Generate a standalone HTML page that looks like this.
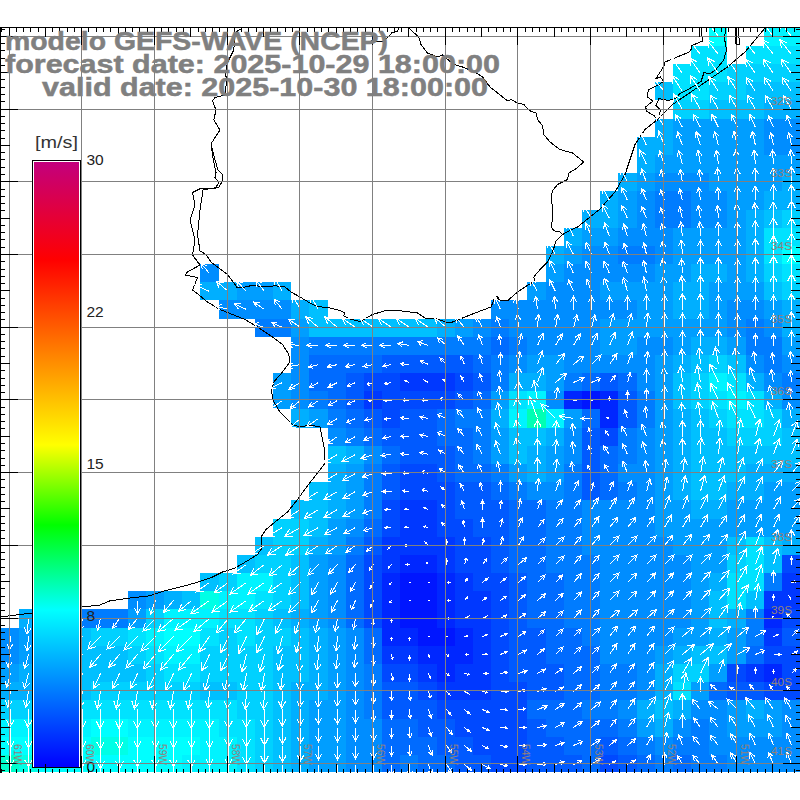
<!DOCTYPE html><html><head><meta charset="utf-8"><style>html,body{margin:0;padding:0;background:#fff}svg{display:block}text{font-family:"Liberation Sans",sans-serif}</style></head><body>
<svg width="800" height="800" viewBox="0 0 800 800">
<rect width="800" height="800" fill="#fff"/>
<g shape-rendering="crispEdges">
<rect x="709" y="28" width="18" height="18" fill="#00ffff"/>
<rect x="764" y="28" width="36" height="18" fill="#00f3ff"/>
<rect x="691" y="46" width="36" height="18" fill="#00e2ff"/>
<rect x="746" y="46" width="54" height="18" fill="#00e2ff"/>
<rect x="673" y="64" width="54" height="18" fill="#00e2ff"/>
<rect x="727" y="64" width="73" height="18" fill="#00d1ff"/>
<rect x="655" y="82" width="18" height="18" fill="#00c0ff"/>
<rect x="673" y="82" width="36" height="18" fill="#00e2ff"/>
<rect x="709" y="82" width="37" height="18" fill="#00d1ff"/>
<rect x="746" y="82" width="54" height="18" fill="#00c0ff"/>
<rect x="673" y="100" width="36" height="19" fill="#00d1ff"/>
<rect x="709" y="100" width="55" height="19" fill="#00c0ff"/>
<rect x="764" y="100" width="36" height="19" fill="#00afff"/>
<rect x="655" y="119" width="18" height="18" fill="#00afff"/>
<rect x="673" y="119" width="91" height="18" fill="#009eff"/>
<rect x="764" y="119" width="36" height="18" fill="#008dff"/>
<rect x="637" y="137" width="36" height="18" fill="#00afff"/>
<rect x="673" y="137" width="91" height="18" fill="#009eff"/>
<rect x="764" y="137" width="36" height="18" fill="#008dff"/>
<rect x="637" y="155" width="18" height="18" fill="#00afff"/>
<rect x="655" y="155" width="145" height="18" fill="#009eff"/>
<rect x="618" y="173" width="19" height="18" fill="#00afff"/>
<rect x="637" y="173" width="18" height="18" fill="#009eff"/>
<rect x="655" y="173" width="54" height="18" fill="#008dff"/>
<rect x="709" y="173" width="73" height="18" fill="#009eff"/>
<rect x="782" y="173" width="18" height="18" fill="#00afff"/>
<rect x="600" y="191" width="18" height="19" fill="#00afff"/>
<rect x="618" y="191" width="19" height="19" fill="#009eff"/>
<rect x="637" y="191" width="18" height="19" fill="#008dff"/>
<rect x="655" y="191" width="36" height="19" fill="#007cff"/>
<rect x="691" y="191" width="36" height="19" fill="#008dff"/>
<rect x="727" y="191" width="37" height="19" fill="#009eff"/>
<rect x="764" y="191" width="36" height="19" fill="#00afff"/>
<rect x="582" y="210" width="36" height="18" fill="#00afff"/>
<rect x="618" y="210" width="19" height="18" fill="#009eff"/>
<rect x="637" y="210" width="18" height="18" fill="#008dff"/>
<rect x="655" y="210" width="36" height="18" fill="#007cff"/>
<rect x="691" y="210" width="36" height="18" fill="#008dff"/>
<rect x="727" y="210" width="19" height="18" fill="#009eff"/>
<rect x="746" y="210" width="18" height="18" fill="#00afff"/>
<rect x="764" y="210" width="18" height="18" fill="#00c0ff"/>
<rect x="782" y="210" width="18" height="18" fill="#00d1ff"/>
<rect x="564" y="228" width="18" height="18" fill="#00afff"/>
<rect x="582" y="228" width="36" height="18" fill="#009eff"/>
<rect x="618" y="228" width="55" height="18" fill="#008dff"/>
<rect x="673" y="228" width="73" height="18" fill="#009eff"/>
<rect x="746" y="228" width="18" height="18" fill="#00afff"/>
<rect x="764" y="228" width="36" height="18" fill="#00e2ff"/>
<rect x="546" y="246" width="18" height="18" fill="#00afff"/>
<rect x="564" y="246" width="18" height="18" fill="#009eff"/>
<rect x="582" y="246" width="36" height="18" fill="#008dff"/>
<rect x="618" y="246" width="37" height="18" fill="#007cff"/>
<rect x="655" y="246" width="18" height="18" fill="#008dff"/>
<rect x="673" y="246" width="73" height="18" fill="#009eff"/>
<rect x="746" y="246" width="18" height="18" fill="#00afff"/>
<rect x="764" y="246" width="18" height="18" fill="#00e2ff"/>
<rect x="782" y="246" width="18" height="18" fill="#00ffff"/>
<rect x="200" y="264" width="19" height="18" fill="#008dff"/>
<rect x="546" y="264" width="18" height="18" fill="#009eff"/>
<rect x="564" y="264" width="91" height="18" fill="#008dff"/>
<rect x="655" y="264" width="36" height="18" fill="#009eff"/>
<rect x="691" y="264" width="36" height="18" fill="#00afff"/>
<rect x="727" y="264" width="19" height="18" fill="#009eff"/>
<rect x="746" y="264" width="18" height="18" fill="#00afff"/>
<rect x="764" y="264" width="18" height="18" fill="#00d1ff"/>
<rect x="782" y="264" width="18" height="18" fill="#00e2ff"/>
<rect x="200" y="282" width="37" height="18" fill="#00afff"/>
<rect x="237" y="282" width="36" height="18" fill="#009eff"/>
<rect x="273" y="282" width="18" height="18" fill="#00afff"/>
<rect x="527" y="282" width="19" height="18" fill="#009eff"/>
<rect x="546" y="282" width="54" height="18" fill="#008dff"/>
<rect x="600" y="282" width="73" height="18" fill="#009eff"/>
<rect x="673" y="282" width="36" height="18" fill="#00afff"/>
<rect x="709" y="282" width="55" height="18" fill="#009eff"/>
<rect x="764" y="282" width="18" height="18" fill="#00c0ff"/>
<rect x="782" y="282" width="18" height="18" fill="#00d1ff"/>
<rect x="219" y="300" width="72" height="19" fill="#008dff"/>
<rect x="291" y="300" width="18" height="19" fill="#00afff"/>
<rect x="309" y="300" width="19" height="19" fill="#00c0ff"/>
<rect x="491" y="300" width="146" height="19" fill="#008dff"/>
<rect x="637" y="300" width="36" height="19" fill="#009eff"/>
<rect x="673" y="300" width="36" height="19" fill="#00afff"/>
<rect x="709" y="300" width="18" height="19" fill="#009eff"/>
<rect x="727" y="300" width="37" height="19" fill="#008dff"/>
<rect x="764" y="300" width="18" height="19" fill="#009eff"/>
<rect x="782" y="300" width="18" height="19" fill="#00afff"/>
<rect x="255" y="319" width="36" height="18" fill="#007cff"/>
<rect x="291" y="319" width="18" height="18" fill="#009eff"/>
<rect x="309" y="319" width="128" height="18" fill="#00c0ff"/>
<rect x="437" y="319" width="18" height="18" fill="#00afff"/>
<rect x="455" y="319" width="18" height="18" fill="#009eff"/>
<rect x="473" y="319" width="18" height="18" fill="#008dff"/>
<rect x="491" y="319" width="18" height="18" fill="#007cff"/>
<rect x="509" y="319" width="91" height="18" fill="#008dff"/>
<rect x="600" y="319" width="127" height="18" fill="#009eff"/>
<rect x="727" y="319" width="19" height="18" fill="#008dff"/>
<rect x="746" y="319" width="18" height="18" fill="#007cff"/>
<rect x="764" y="319" width="18" height="18" fill="#008dff"/>
<rect x="782" y="319" width="18" height="18" fill="#00afff"/>
<rect x="291" y="337" width="18" height="18" fill="#008dff"/>
<rect x="309" y="337" width="182" height="18" fill="#007cff"/>
<rect x="491" y="337" width="18" height="18" fill="#006bff"/>
<rect x="509" y="337" width="18" height="18" fill="#007cff"/>
<rect x="527" y="337" width="73" height="18" fill="#008dff"/>
<rect x="600" y="337" width="37" height="18" fill="#009eff"/>
<rect x="637" y="337" width="36" height="18" fill="#008dff"/>
<rect x="673" y="337" width="18" height="18" fill="#009eff"/>
<rect x="691" y="337" width="36" height="18" fill="#00afff"/>
<rect x="727" y="337" width="19" height="18" fill="#009eff"/>
<rect x="746" y="337" width="36" height="18" fill="#007cff"/>
<rect x="782" y="337" width="18" height="18" fill="#009eff"/>
<rect x="291" y="355" width="18" height="18" fill="#008dff"/>
<rect x="309" y="355" width="73" height="18" fill="#006bff"/>
<rect x="382" y="355" width="91" height="18" fill="#005aff"/>
<rect x="473" y="355" width="18" height="18" fill="#006bff"/>
<rect x="491" y="355" width="18" height="18" fill="#007cff"/>
<rect x="509" y="355" width="18" height="18" fill="#008dff"/>
<rect x="527" y="355" width="37" height="18" fill="#009eff"/>
<rect x="564" y="355" width="91" height="18" fill="#008dff"/>
<rect x="655" y="355" width="18" height="18" fill="#009eff"/>
<rect x="673" y="355" width="18" height="18" fill="#00afff"/>
<rect x="691" y="355" width="18" height="18" fill="#00c0ff"/>
<rect x="709" y="355" width="18" height="18" fill="#00d1ff"/>
<rect x="727" y="355" width="19" height="18" fill="#00c0ff"/>
<rect x="746" y="355" width="18" height="18" fill="#008dff"/>
<rect x="764" y="355" width="18" height="18" fill="#007cff"/>
<rect x="782" y="355" width="18" height="18" fill="#008dff"/>
<rect x="273" y="373" width="18" height="18" fill="#009eff"/>
<rect x="291" y="373" width="18" height="18" fill="#008dff"/>
<rect x="309" y="373" width="37" height="18" fill="#006bff"/>
<rect x="346" y="373" width="18" height="18" fill="#005aff"/>
<rect x="364" y="373" width="36" height="18" fill="#0049ff"/>
<rect x="400" y="373" width="55" height="18" fill="#0038ff"/>
<rect x="455" y="373" width="18" height="18" fill="#0049ff"/>
<rect x="473" y="373" width="18" height="18" fill="#005aff"/>
<rect x="491" y="373" width="18" height="18" fill="#007cff"/>
<rect x="509" y="373" width="37" height="18" fill="#00afff"/>
<rect x="546" y="373" width="18" height="18" fill="#009eff"/>
<rect x="564" y="373" width="18" height="18" fill="#007cff"/>
<rect x="582" y="373" width="18" height="18" fill="#006bff"/>
<rect x="600" y="373" width="18" height="18" fill="#005aff"/>
<rect x="618" y="373" width="19" height="18" fill="#006bff"/>
<rect x="637" y="373" width="18" height="18" fill="#008dff"/>
<rect x="655" y="373" width="18" height="18" fill="#009eff"/>
<rect x="673" y="373" width="18" height="18" fill="#00c0ff"/>
<rect x="691" y="373" width="18" height="18" fill="#00d1ff"/>
<rect x="709" y="373" width="18" height="18" fill="#00f3ff"/>
<rect x="727" y="373" width="19" height="18" fill="#00e2ff"/>
<rect x="746" y="373" width="18" height="18" fill="#00afff"/>
<rect x="764" y="373" width="18" height="18" fill="#008dff"/>
<rect x="782" y="373" width="18" height="18" fill="#007cff"/>
<rect x="273" y="391" width="18" height="18" fill="#009eff"/>
<rect x="291" y="391" width="18" height="18" fill="#008dff"/>
<rect x="309" y="391" width="19" height="18" fill="#007cff"/>
<rect x="328" y="391" width="18" height="18" fill="#006bff"/>
<rect x="346" y="391" width="18" height="18" fill="#005aff"/>
<rect x="364" y="391" width="18" height="18" fill="#0038ff"/>
<rect x="382" y="391" width="73" height="18" fill="#0049ff"/>
<rect x="455" y="391" width="18" height="18" fill="#005aff"/>
<rect x="473" y="391" width="18" height="18" fill="#006bff"/>
<rect x="491" y="391" width="18" height="18" fill="#009eff"/>
<rect x="509" y="391" width="18" height="18" fill="#00e2ff"/>
<rect x="527" y="391" width="19" height="18" fill="#00f3ff"/>
<rect x="546" y="391" width="18" height="18" fill="#008dff"/>
<rect x="564" y="391" width="18" height="18" fill="#0027ff"/>
<rect x="582" y="391" width="18" height="18" fill="#0016ff"/>
<rect x="600" y="391" width="18" height="18" fill="#0027ff"/>
<rect x="618" y="391" width="19" height="18" fill="#005aff"/>
<rect x="637" y="391" width="18" height="18" fill="#007cff"/>
<rect x="655" y="391" width="18" height="18" fill="#009eff"/>
<rect x="673" y="391" width="18" height="18" fill="#00c0ff"/>
<rect x="691" y="391" width="18" height="18" fill="#00d1ff"/>
<rect x="709" y="391" width="18" height="18" fill="#00e2ff"/>
<rect x="727" y="391" width="19" height="18" fill="#00f3ff"/>
<rect x="746" y="391" width="18" height="18" fill="#00e2ff"/>
<rect x="764" y="391" width="18" height="18" fill="#00afff"/>
<rect x="782" y="391" width="18" height="18" fill="#008dff"/>
<rect x="291" y="409" width="18" height="19" fill="#00afff"/>
<rect x="309" y="409" width="19" height="19" fill="#009eff"/>
<rect x="328" y="409" width="18" height="19" fill="#007cff"/>
<rect x="346" y="409" width="18" height="19" fill="#006bff"/>
<rect x="364" y="409" width="18" height="19" fill="#005aff"/>
<rect x="382" y="409" width="18" height="19" fill="#0049ff"/>
<rect x="400" y="409" width="37" height="19" fill="#005aff"/>
<rect x="437" y="409" width="18" height="19" fill="#006bff"/>
<rect x="455" y="409" width="36" height="19" fill="#007cff"/>
<rect x="491" y="409" width="18" height="19" fill="#00afff"/>
<rect x="509" y="409" width="18" height="19" fill="#00f3ff"/>
<rect x="527" y="409" width="19" height="19" fill="#00ffb4"/>
<rect x="546" y="409" width="18" height="19" fill="#00f3ff"/>
<rect x="564" y="409" width="18" height="19" fill="#009eff"/>
<rect x="582" y="409" width="18" height="19" fill="#006bff"/>
<rect x="600" y="409" width="18" height="19" fill="#0027ff"/>
<rect x="618" y="409" width="19" height="19" fill="#005aff"/>
<rect x="637" y="409" width="18" height="19" fill="#007cff"/>
<rect x="655" y="409" width="18" height="19" fill="#009eff"/>
<rect x="673" y="409" width="18" height="19" fill="#00afff"/>
<rect x="691" y="409" width="18" height="19" fill="#00c0ff"/>
<rect x="709" y="409" width="18" height="19" fill="#00d1ff"/>
<rect x="727" y="409" width="37" height="19" fill="#00e2ff"/>
<rect x="764" y="409" width="18" height="19" fill="#00d1ff"/>
<rect x="782" y="409" width="18" height="19" fill="#00afff"/>
<rect x="328" y="428" width="18" height="18" fill="#008dff"/>
<rect x="346" y="428" width="18" height="18" fill="#007cff"/>
<rect x="364" y="428" width="18" height="18" fill="#006bff"/>
<rect x="382" y="428" width="55" height="18" fill="#005aff"/>
<rect x="437" y="428" width="36" height="18" fill="#006bff"/>
<rect x="473" y="428" width="18" height="18" fill="#007cff"/>
<rect x="491" y="428" width="18" height="18" fill="#009eff"/>
<rect x="509" y="428" width="37" height="18" fill="#00c0ff"/>
<rect x="546" y="428" width="18" height="18" fill="#00afff"/>
<rect x="564" y="428" width="18" height="18" fill="#008dff"/>
<rect x="582" y="428" width="18" height="18" fill="#005aff"/>
<rect x="600" y="428" width="18" height="18" fill="#0049ff"/>
<rect x="618" y="428" width="19" height="18" fill="#007cff"/>
<rect x="637" y="428" width="18" height="18" fill="#008dff"/>
<rect x="655" y="428" width="18" height="18" fill="#009eff"/>
<rect x="673" y="428" width="18" height="18" fill="#00afff"/>
<rect x="691" y="428" width="36" height="18" fill="#00c0ff"/>
<rect x="727" y="428" width="55" height="18" fill="#00d1ff"/>
<rect x="782" y="428" width="18" height="18" fill="#00c0ff"/>
<rect x="328" y="446" width="18" height="18" fill="#00c0ff"/>
<rect x="346" y="446" width="18" height="18" fill="#00afff"/>
<rect x="364" y="446" width="18" height="18" fill="#008dff"/>
<rect x="382" y="446" width="18" height="18" fill="#006bff"/>
<rect x="400" y="446" width="55" height="18" fill="#005aff"/>
<rect x="455" y="446" width="18" height="18" fill="#006bff"/>
<rect x="473" y="446" width="18" height="18" fill="#007cff"/>
<rect x="491" y="446" width="18" height="18" fill="#009eff"/>
<rect x="509" y="446" width="18" height="18" fill="#00c0ff"/>
<rect x="527" y="446" width="19" height="18" fill="#00afff"/>
<rect x="546" y="446" width="18" height="18" fill="#009eff"/>
<rect x="564" y="446" width="18" height="18" fill="#008dff"/>
<rect x="582" y="446" width="18" height="18" fill="#005aff"/>
<rect x="600" y="446" width="18" height="18" fill="#006bff"/>
<rect x="618" y="446" width="19" height="18" fill="#007cff"/>
<rect x="637" y="446" width="18" height="18" fill="#008dff"/>
<rect x="655" y="446" width="18" height="18" fill="#009eff"/>
<rect x="673" y="446" width="18" height="18" fill="#00afff"/>
<rect x="691" y="446" width="109" height="18" fill="#00c0ff"/>
<rect x="328" y="464" width="18" height="18" fill="#00afff"/>
<rect x="346" y="464" width="18" height="18" fill="#009eff"/>
<rect x="364" y="464" width="18" height="18" fill="#007cff"/>
<rect x="382" y="464" width="18" height="18" fill="#005aff"/>
<rect x="400" y="464" width="37" height="18" fill="#0049ff"/>
<rect x="437" y="464" width="18" height="18" fill="#005aff"/>
<rect x="455" y="464" width="36" height="18" fill="#006bff"/>
<rect x="491" y="464" width="18" height="18" fill="#007cff"/>
<rect x="509" y="464" width="18" height="18" fill="#009eff"/>
<rect x="527" y="464" width="19" height="18" fill="#00afff"/>
<rect x="546" y="464" width="18" height="18" fill="#009eff"/>
<rect x="564" y="464" width="18" height="18" fill="#007cff"/>
<rect x="582" y="464" width="18" height="18" fill="#005aff"/>
<rect x="600" y="464" width="18" height="18" fill="#006bff"/>
<rect x="618" y="464" width="37" height="18" fill="#008dff"/>
<rect x="655" y="464" width="18" height="18" fill="#009eff"/>
<rect x="673" y="464" width="18" height="18" fill="#00afff"/>
<rect x="691" y="464" width="55" height="18" fill="#00c0ff"/>
<rect x="746" y="464" width="54" height="18" fill="#00afff"/>
<rect x="309" y="482" width="19" height="18" fill="#00c0ff"/>
<rect x="328" y="482" width="18" height="18" fill="#00afff"/>
<rect x="346" y="482" width="18" height="18" fill="#009eff"/>
<rect x="364" y="482" width="18" height="18" fill="#007cff"/>
<rect x="382" y="482" width="18" height="18" fill="#005aff"/>
<rect x="400" y="482" width="55" height="18" fill="#0049ff"/>
<rect x="455" y="482" width="36" height="18" fill="#005aff"/>
<rect x="491" y="482" width="18" height="18" fill="#006bff"/>
<rect x="509" y="482" width="18" height="18" fill="#007cff"/>
<rect x="527" y="482" width="37" height="18" fill="#008dff"/>
<rect x="564" y="482" width="18" height="18" fill="#007cff"/>
<rect x="582" y="482" width="18" height="18" fill="#005aff"/>
<rect x="600" y="482" width="18" height="18" fill="#006bff"/>
<rect x="618" y="482" width="19" height="18" fill="#007cff"/>
<rect x="637" y="482" width="18" height="18" fill="#008dff"/>
<rect x="655" y="482" width="18" height="18" fill="#009eff"/>
<rect x="673" y="482" width="18" height="18" fill="#00afff"/>
<rect x="691" y="482" width="36" height="18" fill="#00c0ff"/>
<rect x="727" y="482" width="37" height="18" fill="#00afff"/>
<rect x="764" y="482" width="36" height="18" fill="#009eff"/>
<rect x="291" y="500" width="37" height="19" fill="#00c0ff"/>
<rect x="328" y="500" width="18" height="19" fill="#00afff"/>
<rect x="346" y="500" width="18" height="19" fill="#009eff"/>
<rect x="364" y="500" width="18" height="19" fill="#007cff"/>
<rect x="382" y="500" width="18" height="19" fill="#0049ff"/>
<rect x="400" y="500" width="37" height="19" fill="#0038ff"/>
<rect x="437" y="500" width="18" height="19" fill="#0049ff"/>
<rect x="455" y="500" width="54" height="19" fill="#005aff"/>
<rect x="509" y="500" width="37" height="19" fill="#006bff"/>
<rect x="546" y="500" width="36" height="19" fill="#007cff"/>
<rect x="582" y="500" width="73" height="19" fill="#008dff"/>
<rect x="655" y="500" width="36" height="19" fill="#009eff"/>
<rect x="691" y="500" width="36" height="19" fill="#00afff"/>
<rect x="727" y="500" width="73" height="19" fill="#009eff"/>
<rect x="273" y="519" width="36" height="18" fill="#00d1ff"/>
<rect x="309" y="519" width="19" height="18" fill="#00c0ff"/>
<rect x="328" y="519" width="18" height="18" fill="#009eff"/>
<rect x="346" y="519" width="18" height="18" fill="#008dff"/>
<rect x="364" y="519" width="18" height="18" fill="#006bff"/>
<rect x="382" y="519" width="18" height="18" fill="#0049ff"/>
<rect x="400" y="519" width="37" height="18" fill="#0038ff"/>
<rect x="437" y="519" width="36" height="18" fill="#0049ff"/>
<rect x="473" y="519" width="36" height="18" fill="#005aff"/>
<rect x="509" y="519" width="37" height="18" fill="#006bff"/>
<rect x="546" y="519" width="36" height="18" fill="#007cff"/>
<rect x="582" y="519" width="73" height="18" fill="#008dff"/>
<rect x="655" y="519" width="145" height="18" fill="#009eff"/>
<rect x="255" y="537" width="18" height="18" fill="#00c0ff"/>
<rect x="273" y="537" width="36" height="18" fill="#00d1ff"/>
<rect x="309" y="537" width="19" height="18" fill="#00afff"/>
<rect x="328" y="537" width="18" height="18" fill="#009eff"/>
<rect x="346" y="537" width="18" height="18" fill="#007cff"/>
<rect x="364" y="537" width="18" height="18" fill="#005aff"/>
<rect x="382" y="537" width="73" height="18" fill="#0038ff"/>
<rect x="455" y="537" width="36" height="18" fill="#0049ff"/>
<rect x="491" y="537" width="18" height="18" fill="#005aff"/>
<rect x="509" y="537" width="37" height="18" fill="#006bff"/>
<rect x="546" y="537" width="36" height="18" fill="#007cff"/>
<rect x="582" y="537" width="91" height="18" fill="#008dff"/>
<rect x="673" y="537" width="54" height="18" fill="#009eff"/>
<rect x="727" y="537" width="19" height="18" fill="#00c0ff"/>
<rect x="746" y="537" width="18" height="18" fill="#00e2ff"/>
<rect x="764" y="537" width="18" height="18" fill="#00c0ff"/>
<rect x="782" y="537" width="18" height="18" fill="#00afff"/>
<rect x="237" y="555" width="18" height="18" fill="#00c0ff"/>
<rect x="255" y="555" width="36" height="18" fill="#00d1ff"/>
<rect x="291" y="555" width="18" height="18" fill="#00c0ff"/>
<rect x="309" y="555" width="19" height="18" fill="#009eff"/>
<rect x="328" y="555" width="18" height="18" fill="#008dff"/>
<rect x="346" y="555" width="18" height="18" fill="#006bff"/>
<rect x="364" y="555" width="18" height="18" fill="#0049ff"/>
<rect x="382" y="555" width="18" height="18" fill="#0038ff"/>
<rect x="400" y="555" width="37" height="18" fill="#0027ff"/>
<rect x="437" y="555" width="18" height="18" fill="#0038ff"/>
<rect x="455" y="555" width="36" height="18" fill="#0049ff"/>
<rect x="491" y="555" width="18" height="18" fill="#005aff"/>
<rect x="509" y="555" width="37" height="18" fill="#006bff"/>
<rect x="546" y="555" width="54" height="18" fill="#007cff"/>
<rect x="600" y="555" width="91" height="18" fill="#008dff"/>
<rect x="691" y="555" width="36" height="18" fill="#009eff"/>
<rect x="727" y="555" width="19" height="18" fill="#00d1ff"/>
<rect x="746" y="555" width="18" height="18" fill="#00e2ff"/>
<rect x="764" y="555" width="18" height="18" fill="#00c0ff"/>
<rect x="782" y="555" width="18" height="18" fill="#0049ff"/>
<rect x="200" y="573" width="19" height="18" fill="#00c0ff"/>
<rect x="219" y="573" width="18" height="18" fill="#00d1ff"/>
<rect x="237" y="573" width="36" height="18" fill="#00f3ff"/>
<rect x="273" y="573" width="18" height="18" fill="#00d1ff"/>
<rect x="291" y="573" width="18" height="18" fill="#00c0ff"/>
<rect x="309" y="573" width="19" height="18" fill="#009eff"/>
<rect x="328" y="573" width="18" height="18" fill="#008dff"/>
<rect x="346" y="573" width="18" height="18" fill="#006bff"/>
<rect x="364" y="573" width="18" height="18" fill="#0049ff"/>
<rect x="382" y="573" width="18" height="18" fill="#0027ff"/>
<rect x="400" y="573" width="37" height="18" fill="#0016ff"/>
<rect x="437" y="573" width="18" height="18" fill="#0027ff"/>
<rect x="455" y="573" width="18" height="18" fill="#0038ff"/>
<rect x="473" y="573" width="36" height="18" fill="#0049ff"/>
<rect x="509" y="573" width="18" height="18" fill="#005aff"/>
<rect x="527" y="573" width="37" height="18" fill="#006bff"/>
<rect x="564" y="573" width="36" height="18" fill="#007cff"/>
<rect x="600" y="573" width="91" height="18" fill="#008dff"/>
<rect x="691" y="573" width="18" height="18" fill="#009eff"/>
<rect x="709" y="573" width="18" height="18" fill="#00afff"/>
<rect x="727" y="573" width="37" height="18" fill="#00e2ff"/>
<rect x="764" y="573" width="18" height="18" fill="#007cff"/>
<rect x="782" y="573" width="18" height="18" fill="#0038ff"/>
<rect x="128" y="591" width="18" height="18" fill="#008dff"/>
<rect x="146" y="591" width="18" height="18" fill="#009eff"/>
<rect x="164" y="591" width="18" height="18" fill="#00afff"/>
<rect x="182" y="591" width="18" height="18" fill="#00c0ff"/>
<rect x="200" y="591" width="19" height="18" fill="#00ffe6"/>
<rect x="219" y="591" width="36" height="18" fill="#00f3ff"/>
<rect x="255" y="591" width="18" height="18" fill="#00e2ff"/>
<rect x="273" y="591" width="18" height="18" fill="#00d1ff"/>
<rect x="291" y="591" width="18" height="18" fill="#00c0ff"/>
<rect x="309" y="591" width="19" height="18" fill="#009eff"/>
<rect x="328" y="591" width="18" height="18" fill="#008dff"/>
<rect x="346" y="591" width="18" height="18" fill="#006bff"/>
<rect x="364" y="591" width="18" height="18" fill="#0049ff"/>
<rect x="382" y="591" width="18" height="18" fill="#0027ff"/>
<rect x="400" y="591" width="37" height="18" fill="#0016ff"/>
<rect x="437" y="591" width="18" height="18" fill="#0027ff"/>
<rect x="455" y="591" width="36" height="18" fill="#0038ff"/>
<rect x="491" y="591" width="18" height="18" fill="#0049ff"/>
<rect x="509" y="591" width="18" height="18" fill="#005aff"/>
<rect x="527" y="591" width="37" height="18" fill="#006bff"/>
<rect x="564" y="591" width="36" height="18" fill="#007cff"/>
<rect x="600" y="591" width="91" height="18" fill="#008dff"/>
<rect x="691" y="591" width="18" height="18" fill="#009eff"/>
<rect x="709" y="591" width="18" height="18" fill="#00c0ff"/>
<rect x="727" y="591" width="19" height="18" fill="#00e2ff"/>
<rect x="746" y="591" width="18" height="18" fill="#00c0ff"/>
<rect x="764" y="591" width="36" height="18" fill="#0038ff"/>
<rect x="19" y="609" width="36" height="19" fill="#00afff"/>
<rect x="55" y="609" width="18" height="19" fill="#008dff"/>
<rect x="73" y="609" width="55" height="19" fill="#007cff"/>
<rect x="128" y="609" width="18" height="19" fill="#009eff"/>
<rect x="146" y="609" width="18" height="19" fill="#00d1ff"/>
<rect x="164" y="609" width="55" height="19" fill="#00f3ff"/>
<rect x="219" y="609" width="36" height="19" fill="#00e2ff"/>
<rect x="255" y="609" width="18" height="19" fill="#00d1ff"/>
<rect x="273" y="609" width="18" height="19" fill="#00c0ff"/>
<rect x="291" y="609" width="18" height="19" fill="#00afff"/>
<rect x="309" y="609" width="19" height="19" fill="#009eff"/>
<rect x="328" y="609" width="18" height="19" fill="#008dff"/>
<rect x="346" y="609" width="18" height="19" fill="#006bff"/>
<rect x="364" y="609" width="18" height="19" fill="#0049ff"/>
<rect x="382" y="609" width="18" height="19" fill="#0027ff"/>
<rect x="400" y="609" width="37" height="19" fill="#0016ff"/>
<rect x="437" y="609" width="18" height="19" fill="#0027ff"/>
<rect x="455" y="609" width="36" height="19" fill="#0038ff"/>
<rect x="491" y="609" width="18" height="19" fill="#0049ff"/>
<rect x="509" y="609" width="18" height="19" fill="#005aff"/>
<rect x="527" y="609" width="37" height="19" fill="#006bff"/>
<rect x="564" y="609" width="36" height="19" fill="#007cff"/>
<rect x="600" y="609" width="91" height="19" fill="#008dff"/>
<rect x="691" y="609" width="18" height="19" fill="#009eff"/>
<rect x="709" y="609" width="18" height="19" fill="#00c0ff"/>
<rect x="727" y="609" width="19" height="19" fill="#00afff"/>
<rect x="746" y="609" width="18" height="19" fill="#007cff"/>
<rect x="764" y="609" width="18" height="19" fill="#0027ff"/>
<rect x="782" y="609" width="18" height="19" fill="#0049ff"/>
<rect x="1" y="628" width="18" height="18" fill="#008dff"/>
<rect x="19" y="628" width="36" height="18" fill="#009eff"/>
<rect x="55" y="628" width="18" height="18" fill="#00afff"/>
<rect x="73" y="628" width="18" height="18" fill="#00c0ff"/>
<rect x="91" y="628" width="37" height="18" fill="#00d1ff"/>
<rect x="128" y="628" width="18" height="18" fill="#00e2ff"/>
<rect x="146" y="628" width="18" height="18" fill="#00f3ff"/>
<rect x="164" y="628" width="36" height="18" fill="#00ffff"/>
<rect x="200" y="628" width="19" height="18" fill="#00e2ff"/>
<rect x="219" y="628" width="18" height="18" fill="#00d1ff"/>
<rect x="237" y="628" width="18" height="18" fill="#00e2ff"/>
<rect x="255" y="628" width="36" height="18" fill="#00d1ff"/>
<rect x="291" y="628" width="18" height="18" fill="#00c0ff"/>
<rect x="309" y="628" width="19" height="18" fill="#00afff"/>
<rect x="328" y="628" width="18" height="18" fill="#009eff"/>
<rect x="346" y="628" width="18" height="18" fill="#008dff"/>
<rect x="364" y="628" width="18" height="18" fill="#006bff"/>
<rect x="382" y="628" width="36" height="18" fill="#0027ff"/>
<rect x="418" y="628" width="37" height="18" fill="#0016ff"/>
<rect x="455" y="628" width="18" height="18" fill="#0027ff"/>
<rect x="473" y="628" width="18" height="18" fill="#0038ff"/>
<rect x="491" y="628" width="18" height="18" fill="#0049ff"/>
<rect x="509" y="628" width="37" height="18" fill="#005aff"/>
<rect x="546" y="628" width="36" height="18" fill="#006bff"/>
<rect x="582" y="628" width="18" height="18" fill="#007cff"/>
<rect x="600" y="628" width="73" height="18" fill="#008dff"/>
<rect x="673" y="628" width="36" height="18" fill="#009eff"/>
<rect x="709" y="628" width="18" height="18" fill="#00afff"/>
<rect x="727" y="628" width="19" height="18" fill="#009eff"/>
<rect x="746" y="628" width="18" height="18" fill="#007cff"/>
<rect x="764" y="628" width="18" height="18" fill="#0038ff"/>
<rect x="782" y="628" width="18" height="18" fill="#005aff"/>
<rect x="1" y="646" width="18" height="18" fill="#008dff"/>
<rect x="19" y="646" width="36" height="18" fill="#009eff"/>
<rect x="55" y="646" width="18" height="18" fill="#00afff"/>
<rect x="73" y="646" width="55" height="18" fill="#00c0ff"/>
<rect x="128" y="646" width="18" height="18" fill="#00d1ff"/>
<rect x="146" y="646" width="18" height="18" fill="#00e2ff"/>
<rect x="164" y="646" width="36" height="18" fill="#00f3ff"/>
<rect x="200" y="646" width="73" height="18" fill="#00d1ff"/>
<rect x="273" y="646" width="36" height="18" fill="#00c0ff"/>
<rect x="309" y="646" width="19" height="18" fill="#00afff"/>
<rect x="328" y="646" width="18" height="18" fill="#009eff"/>
<rect x="346" y="646" width="18" height="18" fill="#008dff"/>
<rect x="364" y="646" width="18" height="18" fill="#006bff"/>
<rect x="382" y="646" width="36" height="18" fill="#0038ff"/>
<rect x="418" y="646" width="55" height="18" fill="#0027ff"/>
<rect x="473" y="646" width="18" height="18" fill="#0038ff"/>
<rect x="491" y="646" width="18" height="18" fill="#0049ff"/>
<rect x="509" y="646" width="37" height="18" fill="#005aff"/>
<rect x="546" y="646" width="54" height="18" fill="#006bff"/>
<rect x="600" y="646" width="55" height="18" fill="#008dff"/>
<rect x="655" y="646" width="18" height="18" fill="#009eff"/>
<rect x="673" y="646" width="18" height="18" fill="#00afff"/>
<rect x="691" y="646" width="36" height="18" fill="#00c0ff"/>
<rect x="727" y="646" width="19" height="18" fill="#009eff"/>
<rect x="746" y="646" width="18" height="18" fill="#006bff"/>
<rect x="764" y="646" width="36" height="18" fill="#0049ff"/>
<rect x="1" y="664" width="18" height="18" fill="#009eff"/>
<rect x="19" y="664" width="54" height="18" fill="#00afff"/>
<rect x="73" y="664" width="73" height="18" fill="#00c0ff"/>
<rect x="146" y="664" width="18" height="18" fill="#00d1ff"/>
<rect x="164" y="664" width="36" height="18" fill="#00e2ff"/>
<rect x="200" y="664" width="73" height="18" fill="#00d1ff"/>
<rect x="273" y="664" width="36" height="18" fill="#00c0ff"/>
<rect x="309" y="664" width="19" height="18" fill="#00afff"/>
<rect x="328" y="664" width="18" height="18" fill="#009eff"/>
<rect x="346" y="664" width="18" height="18" fill="#008dff"/>
<rect x="364" y="664" width="18" height="18" fill="#007cff"/>
<rect x="382" y="664" width="36" height="18" fill="#0049ff"/>
<rect x="418" y="664" width="19" height="18" fill="#0038ff"/>
<rect x="437" y="664" width="18" height="18" fill="#0027ff"/>
<rect x="455" y="664" width="36" height="18" fill="#0038ff"/>
<rect x="491" y="664" width="18" height="18" fill="#0049ff"/>
<rect x="509" y="664" width="55" height="18" fill="#005aff"/>
<rect x="564" y="664" width="36" height="18" fill="#006bff"/>
<rect x="600" y="664" width="37" height="18" fill="#007cff"/>
<rect x="637" y="664" width="18" height="18" fill="#008dff"/>
<rect x="655" y="664" width="18" height="18" fill="#00afff"/>
<rect x="673" y="664" width="36" height="18" fill="#00d1ff"/>
<rect x="709" y="664" width="18" height="18" fill="#009eff"/>
<rect x="727" y="664" width="19" height="18" fill="#0049ff"/>
<rect x="746" y="664" width="18" height="18" fill="#0038ff"/>
<rect x="764" y="664" width="18" height="18" fill="#0027ff"/>
<rect x="782" y="664" width="18" height="18" fill="#0049ff"/>
<rect x="1" y="682" width="72" height="18" fill="#00afff"/>
<rect x="73" y="682" width="18" height="18" fill="#00c0ff"/>
<rect x="91" y="682" width="109" height="18" fill="#00d1ff"/>
<rect x="200" y="682" width="37" height="18" fill="#00c0ff"/>
<rect x="237" y="682" width="36" height="18" fill="#00d1ff"/>
<rect x="273" y="682" width="18" height="18" fill="#00c0ff"/>
<rect x="291" y="682" width="37" height="18" fill="#00afff"/>
<rect x="328" y="682" width="18" height="18" fill="#009eff"/>
<rect x="346" y="682" width="18" height="18" fill="#008dff"/>
<rect x="364" y="682" width="18" height="18" fill="#007cff"/>
<rect x="382" y="682" width="36" height="18" fill="#005aff"/>
<rect x="418" y="682" width="19" height="18" fill="#0049ff"/>
<rect x="437" y="682" width="54" height="18" fill="#0038ff"/>
<rect x="491" y="682" width="36" height="18" fill="#0049ff"/>
<rect x="527" y="682" width="37" height="18" fill="#005aff"/>
<rect x="564" y="682" width="36" height="18" fill="#006bff"/>
<rect x="600" y="682" width="37" height="18" fill="#007cff"/>
<rect x="637" y="682" width="18" height="18" fill="#008dff"/>
<rect x="655" y="682" width="18" height="18" fill="#00afff"/>
<rect x="673" y="682" width="18" height="18" fill="#00e2ff"/>
<rect x="691" y="682" width="18" height="18" fill="#009eff"/>
<rect x="709" y="682" width="18" height="18" fill="#006bff"/>
<rect x="727" y="682" width="37" height="18" fill="#005aff"/>
<rect x="764" y="682" width="36" height="18" fill="#0049ff"/>
<rect x="1" y="700" width="54" height="19" fill="#00d1ff"/>
<rect x="55" y="700" width="182" height="19" fill="#00e2ff"/>
<rect x="237" y="700" width="36" height="19" fill="#00d1ff"/>
<rect x="273" y="700" width="18" height="19" fill="#00c0ff"/>
<rect x="291" y="700" width="18" height="19" fill="#00afff"/>
<rect x="309" y="700" width="37" height="19" fill="#009eff"/>
<rect x="346" y="700" width="18" height="19" fill="#008dff"/>
<rect x="364" y="700" width="18" height="19" fill="#007cff"/>
<rect x="382" y="700" width="55" height="19" fill="#005aff"/>
<rect x="437" y="700" width="90" height="19" fill="#0049ff"/>
<rect x="527" y="700" width="55" height="19" fill="#006bff"/>
<rect x="582" y="700" width="36" height="19" fill="#007cff"/>
<rect x="618" y="700" width="19" height="19" fill="#008dff"/>
<rect x="637" y="700" width="18" height="19" fill="#00afff"/>
<rect x="655" y="700" width="18" height="19" fill="#00c0ff"/>
<rect x="673" y="700" width="18" height="19" fill="#00afff"/>
<rect x="691" y="700" width="36" height="19" fill="#008dff"/>
<rect x="727" y="700" width="19" height="19" fill="#009eff"/>
<rect x="746" y="700" width="18" height="19" fill="#00afff"/>
<rect x="764" y="700" width="18" height="19" fill="#009eff"/>
<rect x="782" y="700" width="18" height="19" fill="#008dff"/>
<rect x="1" y="719" width="90" height="18" fill="#00f3ff"/>
<rect x="91" y="719" width="37" height="18" fill="#00ffff"/>
<rect x="128" y="719" width="91" height="18" fill="#00f3ff"/>
<rect x="219" y="719" width="36" height="18" fill="#00e2ff"/>
<rect x="255" y="719" width="18" height="18" fill="#00d1ff"/>
<rect x="273" y="719" width="18" height="18" fill="#00c0ff"/>
<rect x="291" y="719" width="18" height="18" fill="#00afff"/>
<rect x="309" y="719" width="37" height="18" fill="#009eff"/>
<rect x="346" y="719" width="36" height="18" fill="#008dff"/>
<rect x="382" y="719" width="36" height="18" fill="#006bff"/>
<rect x="418" y="719" width="37" height="18" fill="#005aff"/>
<rect x="455" y="719" width="72" height="18" fill="#0049ff"/>
<rect x="527" y="719" width="19" height="18" fill="#005aff"/>
<rect x="546" y="719" width="72" height="18" fill="#006bff"/>
<rect x="618" y="719" width="19" height="18" fill="#007cff"/>
<rect x="637" y="719" width="18" height="18" fill="#009eff"/>
<rect x="655" y="719" width="18" height="18" fill="#00afff"/>
<rect x="673" y="719" width="18" height="18" fill="#008dff"/>
<rect x="691" y="719" width="18" height="18" fill="#007cff"/>
<rect x="709" y="719" width="18" height="18" fill="#008dff"/>
<rect x="727" y="719" width="55" height="18" fill="#009eff"/>
<rect x="782" y="719" width="18" height="18" fill="#008dff"/>
<rect x="1" y="737" width="90" height="18" fill="#00ffff"/>
<rect x="91" y="737" width="37" height="18" fill="#00ffe6"/>
<rect x="128" y="737" width="72" height="18" fill="#00ffff"/>
<rect x="200" y="737" width="37" height="18" fill="#00f3ff"/>
<rect x="237" y="737" width="18" height="18" fill="#00e2ff"/>
<rect x="255" y="737" width="18" height="18" fill="#00d1ff"/>
<rect x="273" y="737" width="18" height="18" fill="#00c0ff"/>
<rect x="291" y="737" width="18" height="18" fill="#00afff"/>
<rect x="309" y="737" width="37" height="18" fill="#009eff"/>
<rect x="346" y="737" width="36" height="18" fill="#008dff"/>
<rect x="382" y="737" width="55" height="18" fill="#006bff"/>
<rect x="437" y="737" width="36" height="18" fill="#005aff"/>
<rect x="473" y="737" width="54" height="18" fill="#0049ff"/>
<rect x="527" y="737" width="37" height="18" fill="#005aff"/>
<rect x="564" y="737" width="36" height="18" fill="#006bff"/>
<rect x="600" y="737" width="18" height="18" fill="#005aff"/>
<rect x="618" y="737" width="19" height="18" fill="#006bff"/>
<rect x="637" y="737" width="18" height="18" fill="#007cff"/>
<rect x="655" y="737" width="18" height="18" fill="#008dff"/>
<rect x="673" y="737" width="36" height="18" fill="#007cff"/>
<rect x="709" y="737" width="91" height="18" fill="#008dff"/>
<rect x="1" y="755" width="18" height="17" fill="#00ffcd"/>
<rect x="19" y="755" width="18" height="17" fill="#00ffe6"/>
<rect x="37" y="755" width="145" height="17" fill="#00ffff"/>
<rect x="182" y="755" width="55" height="17" fill="#00f3ff"/>
<rect x="237" y="755" width="18" height="17" fill="#00e2ff"/>
<rect x="255" y="755" width="18" height="17" fill="#00d1ff"/>
<rect x="273" y="755" width="18" height="17" fill="#00c0ff"/>
<rect x="291" y="755" width="18" height="17" fill="#00afff"/>
<rect x="309" y="755" width="37" height="17" fill="#009eff"/>
<rect x="346" y="755" width="36" height="17" fill="#008dff"/>
<rect x="382" y="755" width="18" height="17" fill="#006bff"/>
<rect x="400" y="755" width="18" height="17" fill="#007cff"/>
<rect x="418" y="755" width="37" height="17" fill="#006bff"/>
<rect x="455" y="755" width="36" height="17" fill="#005aff"/>
<rect x="491" y="755" width="36" height="17" fill="#0049ff"/>
<rect x="527" y="755" width="55" height="17" fill="#005aff"/>
<rect x="582" y="755" width="18" height="17" fill="#006bff"/>
<rect x="600" y="755" width="18" height="17" fill="#0049ff"/>
<rect x="618" y="755" width="19" height="17" fill="#005aff"/>
<rect x="637" y="755" width="18" height="17" fill="#006bff"/>
<rect x="655" y="755" width="18" height="17" fill="#007cff"/>
<rect x="673" y="755" width="18" height="17" fill="#006bff"/>
<rect x="691" y="755" width="36" height="17" fill="#007cff"/>
<rect x="727" y="755" width="73" height="17" fill="#008dff"/>
</g>
<g fill="none" stroke="#000" stroke-width="1" stroke-linejoin="round" shape-rendering="crispEdges">
<polyline points="407.5,27.0 418.8,37.0 421.0,44.5 427.5,53.0 437.5,57.0 442.5,55.0 453.8,64.5 462.5,67.0 475.0,72.0 482.5,77.0 490.0,87.0 507.5,100.8 511.0,99.5 517.5,103.0 523.8,104.5 530.0,110.8 536.0,113.0 537.5,119.5 542.5,125.8 543.8,134.5 550.0,142.0 560.0,149.5 572.5,153.0 583.8,162.0 575.0,169.5 568.8,173.0 567.5,179.5 557.5,184.5 552.5,190.8 551.2,197.0 553.0,212.0 551.5,227.0 553.8,230.8 560.0,232.0 562.5,234.5"/>
<polyline points="241.0,28.8 235.0,32.5 233.8,50.0 227.5,62.5 225.0,75.0 227.0,78.0 225.0,95.0 215.0,97.5 212.5,101.0 216.0,110.0 213.8,120.0 220.0,130.0 211.0,143.8 212.5,155.0 216.0,172.5 215.0,177.5 218.8,182.5 215.0,188.8 200.0,188.8 192.5,192.5 195.0,205.0 190.0,220.0 195.0,240.0 192.5,255.0 200.0,265.0 187.5,272.0 185.0,275.0 197.5,277.5 192.5,290.0 200.0,295.8 207.5,302.0 220.0,309.5 232.5,314.5 245.0,319.5 257.5,327.0 272.5,337.0 282.5,344.5 288.8,354.5 290.0,362.0 282.5,372.0 273.8,382.0 271.2,390.8 273.8,402.0 280.0,412.0 292.5,424.5 300.0,427.0 305.0,426.0 313.0,425.5 320.0,427.0 324.0,447.0 324.0,464.5 317.5,473.0 307.5,485.8 297.5,499.5 287.5,512.0 275.0,522.0 266.0,529.5 261.0,537.0 261.0,549.5 257.5,554.5 247.5,560.8 235.0,568.0 222.5,572.0 212.5,577.0 200.0,581.5 185.0,585.8 165.0,590.8 150.0,595.8 130.0,598.0 110.0,600.8 100.0,605.0 82.5,607.0 32.5,613.0 0.0,617.0"/>
<polyline points="211.0,143.8 215.0,160.0 218.0,170.0 223.0,175.0 222.0,182.0 219.0,187.0 203.0,190.0 200.0,210.0 197.5,235.0 200.0,250.8 206.0,254.5 211.0,262.0 218.8,268.0 227.5,274.5 237.5,288.0 245.0,287.0 254.0,285.0 262.5,287.0 275.0,285.8 285.0,287.0 291.0,292.0 300.0,297.0 310.0,303.0 317.5,306.5 330.0,308.0 341.0,310.8 345.0,313.0 343.8,315.8 350.0,319.0 360.0,321.5 372.5,314.5 385.0,310.8 400.0,310.8 417.5,313.0 425.0,318.0 437.5,319.0 446.0,322.0 450.0,323.0 462.5,318.0 475.0,313.0 491.0,307.0 494.0,299.5 499.0,298.0 496.0,296.0 500.0,300.8 507.5,300.8 517.5,292.0 525.0,287.0 535.0,280.8 533.8,277.0 540.0,269.5 547.5,262.0 552.5,252.0 556.2,240.8 562.5,234.5 575.0,228.0 577.5,227.0 600.0,209.0 615.0,192.0 625.0,174.5 635.0,144.5 645.0,129.5 657.5,119.5 672.5,104.5 700.0,85.8 727.5,67.0 745.0,52.0 765.0,28.0"/>
<polyline points="399.0,28.0 397.5,31.5 392.0,32.7 388.5,36.6 383.0,41.0 375.0,42.0 371.0,40.0"/>
<polyline points="701.0,28.4 702.5,41.0 692.0,45.5 690.5,51.5 665.0,62.0 664.0,66.0 656.0,78.5 660.5,77.0 663.5,81.5 659.0,84.5 648.5,89.6 647.0,96.5 653.0,101.0 645.5,107.0 647.0,111.5 654.5,116.0 657.5,120.5 660.5,110.0 656.0,105.5 659.0,98.6 668.0,100.4 675.5,98.6 680.0,93.5 689.0,89.0 701.0,81.5 704.0,72.5 710.0,74.0 716.0,69.5 723.5,60.5 726.5,50.0 724.4,38.0 726.0,28.4"/>
<polyline points="735.5,28.0 736.0,44.0 739.0,45.0 740.0,40.0 738.0,36.0 739.0,28.0"/>
</g>
<g fill="none" stroke="#fff" stroke-width="1" shape-rendering="crispEdges">
<path d="M718.5 36.5L705.3 19.6M706.7 27.6L705.3 19.6L712.8 22.9"/>
<path d="M773.5 36.5L761.0 20.6M762.5 28.6L761.0 20.6L768.5 23.9"/>
<path d="M791.5 36.5L779.0 20.6M780.5 28.6L779.0 20.6L786.5 23.9"/>
<path d="M700.5 54.5L688.8 39.6M690.3 47.6L688.8 39.6L696.3 42.9"/>
<path d="M718.5 54.5L706.8 39.6M708.3 47.6L706.8 39.6L714.3 42.9"/>
<path d="M755.5 54.5L743.8 39.6M745.3 47.6L743.8 39.6L751.3 42.9"/>
<path d="M773.5 54.5L761.8 39.6M763.3 47.6L761.8 39.6L769.3 42.9"/>
<path d="M791.5 54.5L779.8 39.6M781.3 47.6L779.8 39.6L787.3 42.9"/>
<path d="M682.5 73.5L671.6 58.0M672.6 66.1L671.6 58.0L678.9 61.7"/>
<path d="M700.5 73.5L689.6 58.0M690.6 66.1L689.6 58.0L696.9 61.7"/>
<path d="M718.5 73.5L707.6 58.0M708.6 66.1L707.6 58.0L714.9 61.7"/>
<path d="M737.5 73.5L727.3 59.0M728.3 67.1L727.3 59.0L734.6 62.7"/>
<path d="M755.5 73.5L745.3 59.0M746.3 67.1L745.3 59.0L752.6 62.7"/>
<path d="M773.5 73.5L763.3 59.0M764.3 67.1L763.3 59.0L770.6 62.7"/>
<path d="M791.5 73.5L781.3 59.0M782.3 67.1L781.3 59.0L788.6 62.7"/>
<path d="M664.5 91.5L653.8 78.7M655.4 86.2L653.8 78.7L660.9 81.6"/>
<path d="M682.5 91.5L672.2 75.6M672.9 83.8L672.2 75.6L679.4 79.6"/>
<path d="M700.5 91.5L690.2 75.6M690.9 83.8L690.2 75.6L697.4 79.6"/>
<path d="M718.5 91.5L708.8 76.6M709.5 84.7L708.8 76.6L716.0 80.6"/>
<path d="M737.5 91.5L727.8 76.6M728.5 84.7L727.8 76.6L735.0 80.6"/>
<path d="M755.5 91.5L746.4 77.5M747.1 85.2L746.4 77.5L753.1 81.3"/>
<path d="M773.5 91.5L764.4 77.5M765.1 85.2L764.4 77.5L771.1 81.3"/>
<path d="M791.5 91.5L782.4 77.5M783.1 85.2L782.4 77.5L789.1 81.3"/>
<path d="M682.5 109.5L673.6 94.1M673.9 102.3L673.6 94.1L680.5 98.5"/>
<path d="M700.5 109.5L691.6 94.1M691.9 102.3L691.6 94.1L698.5 98.5"/>
<path d="M718.5 109.5L710.2 95.1M710.4 102.7L710.2 95.1L716.7 99.1"/>
<path d="M737.5 109.5L729.2 95.1M729.4 102.7L729.2 95.1L735.7 99.1"/>
<path d="M755.5 109.5L747.2 95.1M747.4 102.7L747.2 95.1L753.7 99.1"/>
<path d="M773.5 109.5L765.6 95.9M765.9 103.1L765.6 95.9L771.8 99.7"/>
<path d="M791.5 109.5L783.6 95.9M783.9 103.1L783.6 95.9L789.8 99.7"/>
<path d="M664.5 127.5L656.6 113.9M656.9 121.1L656.6 113.9L662.8 117.7"/>
<path d="M682.5 127.5L675.5 114.8M675.6 121.5L675.5 114.8L681.1 118.4"/>
<path d="M700.5 127.5L693.7 114.6M693.7 121.3L693.7 114.6L699.3 118.4"/>
<path d="M718.5 127.5L712.0 114.5M711.8 121.2L712.0 114.5L717.4 118.4"/>
<path d="M737.5 127.5L731.3 114.4M731.0 121.1L731.3 114.4L736.6 118.4"/>
<path d="M755.5 127.5L749.5 114.3M749.1 120.9L749.5 114.3L754.8 118.3"/>
<path d="M773.5 127.5L768.3 115.4M767.8 121.4L768.3 115.4L773.0 119.2"/>
<path d="M791.5 127.5L786.6 115.3M785.9 121.3L786.6 115.3L791.2 119.2"/>
<path d="M646.5 145.5L639.8 131.2M639.5 138.5L639.8 131.2L645.6 135.6"/>
<path d="M664.5 145.5L658.5 130.9M657.8 138.2L658.5 130.9L664.1 135.6"/>
<path d="M682.5 145.5L677.5 131.9M676.6 138.5L677.5 131.9L682.5 136.3"/>
<path d="M700.5 145.5L696.1 131.6M694.9 138.2L696.1 131.6L700.9 136.3"/>
<path d="M718.5 145.5L714.7 131.5M713.2 138.0L714.7 131.5L719.3 136.4"/>
<path d="M737.5 145.5L733.9 131.4M732.3 137.9L733.9 131.4L738.4 136.4"/>
<path d="M755.5 145.5L752.1 131.4M750.4 137.8L752.1 131.4L756.5 136.4"/>
<path d="M773.5 145.5L770.6 132.7M769.0 138.5L770.6 132.7L774.5 137.3"/>
<path d="M791.5 145.5L788.8 132.6M787.1 138.5L788.8 132.6L792.7 137.3"/>
<path d="M646.5 164.5L639.8 150.2M639.5 157.5L639.8 150.2L645.6 154.6"/>
<path d="M664.5 164.5L659.5 150.9M658.6 157.5L659.5 150.9L664.5 155.3"/>
<path d="M682.5 164.5L678.7 150.5M677.2 157.0L678.7 150.5L683.3 155.4"/>
<path d="M700.5 164.5L698.0 150.2M695.9 156.6L698.0 150.2L702.1 155.5"/>
<path d="M718.5 164.5L716.3 150.1M714.1 156.4L716.3 150.1L720.3 155.5"/>
<path d="M737.5 164.5L735.7 150.1M733.3 156.3L735.7 150.1L739.5 155.5"/>
<path d="M755.5 164.5L754.0 150.0M751.5 156.2L754.0 150.0L757.7 155.6"/>
<path d="M773.5 164.5L772.4 150.0M769.7 156.1L772.4 150.0L776.0 155.7"/>
<path d="M791.5 164.5L790.7 150.0M787.9 156.1L790.7 150.0L794.2 155.7"/>
<path d="M627.5 182.5L620.8 168.2M620.5 175.5L620.8 168.2L626.6 172.6"/>
<path d="M646.5 182.5L641.5 168.9M640.6 175.5L641.5 168.9L646.5 173.3"/>
<path d="M664.5 182.5L661.1 169.8M659.7 175.7L661.1 169.8L665.2 174.2"/>
<path d="M682.5 182.5L680.2 169.6M678.3 175.3L680.2 169.6L683.9 174.3"/>
<path d="M700.5 182.5L699.4 169.4M697.0 175.0L699.4 169.4L702.6 174.5"/>
<path d="M718.5 182.5L717.5 168.0M714.8 174.1L717.5 168.0L721.0 173.7"/>
<path d="M737.5 182.5L736.7 168.0M733.9 174.1L736.7 168.0L740.2 173.7"/>
<path d="M755.5 182.5L755.0 168.0M752.1 174.0L755.0 168.0L758.3 173.8"/>
<path d="M773.5 182.5L773.2 168.0M770.2 173.9L773.2 168.0L776.5 173.8"/>
<path d="M791.5 182.5L791.5 166.7M788.1 173.1L791.5 166.7L794.9 173.1"/>
<path d="M609.5 200.5L602.1 186.6M602.1 193.8L602.1 186.6L608.1 190.6"/>
<path d="M627.5 200.5L621.3 187.4M621.0 194.0L621.3 187.4L626.6 191.4"/>
<path d="M646.5 200.5L641.4 188.4M640.9 194.4L641.4 188.4L646.1 192.2"/>
<path d="M664.5 200.5L660.5 189.4M659.7 194.8L660.5 189.4L664.5 193.1"/>
<path d="M682.5 200.5L679.6 189.1M678.3 194.4L679.6 189.1L683.2 193.1"/>
<path d="M700.5 200.5L698.5 187.5M696.5 193.2L698.5 187.5L702.1 192.4"/>
<path d="M718.5 200.5L717.8 187.4M715.3 192.9L717.8 187.4L720.9 192.6"/>
<path d="M737.5 200.5L736.9 186.0M734.0 192.0L736.9 186.0L740.3 191.8"/>
<path d="M755.5 200.5L755.1 186.0M752.1 192.0L755.1 186.0L758.4 191.8"/>
<path d="M773.5 200.5L773.3 184.7M770.0 191.2L773.3 184.7L776.8 191.1"/>
<path d="M791.5 200.5L791.5 184.7M788.1 191.1L791.5 184.7L794.9 191.1"/>
<path d="M591.5 218.5L583.6 204.9M583.9 212.1L583.6 204.9L589.8 208.7"/>
<path d="M609.5 218.5L602.1 204.6M602.1 211.8L602.1 204.6L608.1 208.6"/>
<path d="M627.5 218.5L621.3 205.4M621.0 212.0L621.3 205.4L626.6 209.4"/>
<path d="M646.5 218.5L641.4 206.4M640.9 212.4L641.4 206.4L646.1 210.2"/>
<path d="M664.5 218.5L660.5 207.4M659.7 212.8L660.5 207.4L664.5 211.1"/>
<path d="M682.5 218.5L679.5 207.1M678.2 212.4L679.5 207.1L683.1 211.1"/>
<path d="M700.5 218.5L698.2 205.6M696.3 211.3L698.2 205.6L701.9 210.3"/>
<path d="M718.5 218.5L717.4 205.4M715.0 211.0L717.4 205.4L720.6 210.5"/>
<path d="M737.5 218.5L736.6 204.0M733.8 210.1L736.6 204.0L740.1 209.7"/>
<path d="M755.5 218.5L754.8 202.8M751.7 209.3L754.8 202.8L758.5 209.0"/>
<path d="M773.5 218.5L773.1 201.9M769.7 208.7L773.1 201.9L776.9 208.5"/>
<path d="M791.5 218.5L791.5 200.7M787.7 208.0L791.5 200.7L795.3 208.0"/>
<path d="M573.5 236.5L566.8 222.2M566.5 229.5L566.8 222.2L572.6 226.6"/>
<path d="M591.5 236.5L585.9 223.1M585.3 229.7L585.9 223.1L591.1 227.3"/>
<path d="M609.5 236.5L604.5 222.9M603.6 229.5L604.5 222.9L609.5 227.3"/>
<path d="M627.5 236.5L623.6 224.0M622.5 229.9L623.6 224.0L627.9 228.2"/>
<path d="M646.5 236.5L643.2 223.8M641.8 229.7L643.2 223.8L647.3 228.2"/>
<path d="M664.5 236.5L661.8 223.6M660.1 229.5L661.8 223.6L665.7 228.3"/>
<path d="M682.5 236.5L680.6 222.1M678.3 228.4L680.6 222.1L684.5 227.5"/>
<path d="M700.5 236.5L699.7 222.0M696.9 228.1L699.7 222.0L703.2 227.7"/>
<path d="M718.5 236.5L717.9 222.0M715.0 228.0L717.9 222.0L721.3 227.8"/>
<path d="M737.5 236.5L737.0 222.0M734.1 228.0L737.0 222.0L740.4 227.8"/>
<path d="M755.5 236.5L755.2 220.7M751.9 227.2L755.2 220.7L758.7 227.1"/>
<path d="M773.5 236.5L773.3 217.6M769.5 224.8L773.3 217.6L777.2 224.8"/>
<path d="M791.5 236.5L791.5 217.6M787.7 224.8L791.5 217.6L795.3 224.8"/>
<path d="M555.5 254.5L547.6 240.9M547.9 248.1L547.6 240.9L553.8 244.7"/>
<path d="M573.5 254.5L566.8 241.6M566.8 248.3L566.8 241.6L572.3 245.4"/>
<path d="M591.5 254.5L586.0 242.6M585.7 248.6L586.0 242.6L590.8 246.2"/>
<path d="M609.5 254.5L604.6 242.3M603.9 248.3L604.6 242.3L609.2 246.2"/>
<path d="M627.5 254.5L623.9 243.3M622.9 248.6L623.9 243.3L627.8 247.1"/>
<path d="M646.5 254.5L643.7 243.1M642.3 248.3L643.7 243.1L647.3 247.1"/>
<path d="M664.5 254.5L662.2 241.6M660.3 247.3L662.2 241.6L665.9 246.3"/>
<path d="M682.5 254.5L681.2 240.0M678.6 246.2L681.2 240.0L684.9 245.6"/>
<path d="M700.5 254.5L700.5 240.0M697.4 245.9L700.5 240.0L703.6 245.9"/>
<path d="M718.5 254.5L718.5 240.0M715.4 245.9L718.5 240.0L721.6 245.9"/>
<path d="M737.5 254.5L737.5 240.0M734.4 245.9L737.5 240.0L740.6 245.9"/>
<path d="M755.5 254.5L755.5 238.7M752.1 245.1L755.5 238.7L758.9 245.1"/>
<path d="M773.5 254.5L773.5 235.6M769.7 242.8L773.5 235.6L777.3 242.8"/>
<path d="M791.5 254.5L791.5 233.0M787.7 240.2L791.5 233.0L795.3 240.2"/>
<path d="M209.5 273.5L201.1 263.4M202.3 269.3L201.1 263.4L206.7 265.7"/>
<path d="M555.5 273.5L549.4 260.3M549.0 267.0L549.4 260.3L554.7 264.4"/>
<path d="M573.5 273.5L567.9 261.6M567.6 267.6L567.9 261.6L572.8 265.2"/>
<path d="M591.5 273.5L585.9 261.6M585.6 267.6L585.9 261.6L590.8 265.2"/>
<path d="M609.5 273.5L603.9 261.6M603.6 267.6L603.9 261.6L608.8 265.2"/>
<path d="M627.5 273.5L623.1 261.1M622.2 267.1L623.1 261.1L627.6 265.2"/>
<path d="M646.5 273.5L643.4 260.7M641.9 266.6L643.4 260.7L647.4 265.2"/>
<path d="M664.5 273.5L662.5 259.1M660.2 265.4L662.5 259.1L666.4 264.5"/>
<path d="M682.5 273.5L681.5 259.0M678.8 265.1L681.5 259.0L685.0 264.7"/>
<path d="M700.5 273.5L700.5 257.7M697.1 264.1L700.5 257.7L703.9 264.1"/>
<path d="M718.5 273.5L718.5 257.7M715.1 264.1L718.5 257.7L721.9 264.1"/>
<path d="M737.5 273.5L737.5 259.0M734.4 264.9L737.5 259.0L740.6 264.9"/>
<path d="M755.5 273.5L755.5 257.7M752.1 264.1L755.5 257.7L758.9 264.1"/>
<path d="M773.5 273.5L773.5 255.7M769.7 263.0L773.5 255.7L777.3 263.0"/>
<path d="M791.5 273.5L791.5 254.6M787.7 261.8L791.5 254.6L795.3 261.8"/>
<path d="M209.5 291.5L195.2 284.8M199.6 290.6L195.2 284.8L202.5 284.5"/>
<path d="M228.5 291.5L216.4 281.4M219.1 288.1L216.4 281.4L223.5 282.9"/>
<path d="M246.5 291.5L236.5 280.9M238.3 287.4L236.5 280.9L242.9 283.1"/>
<path d="M264.5 291.5L255.8 279.8M256.8 286.5L255.8 279.8L261.9 282.7"/>
<path d="M282.5 291.5L274.6 277.9M274.9 285.1L274.6 277.9L280.8 281.7"/>
<path d="M537.5 291.5L530.2 278.9M530.5 285.6L530.2 278.9L535.9 282.5"/>
<path d="M555.5 291.5L549.6 279.8M549.5 285.8L549.6 279.8L554.5 283.3"/>
<path d="M573.5 291.5L568.3 279.4M567.8 285.5L568.3 279.4L573.0 283.2"/>
<path d="M591.5 291.5L587.0 279.1M586.2 285.1L587.0 279.1L591.5 283.2"/>
<path d="M609.5 291.5L604.1 278.0M603.4 284.7L604.1 278.0L609.2 282.3"/>
<path d="M627.5 291.5L623.4 277.6M622.1 284.1L623.4 277.6L628.1 282.3"/>
<path d="M646.5 291.5L643.8 277.2M641.8 283.6L643.8 277.2L648.0 282.4"/>
<path d="M664.5 291.5L663.2 277.0M660.6 283.2L663.2 277.0L666.9 282.6"/>
<path d="M682.5 291.5L681.8 275.8M678.7 282.3L681.8 275.8L685.5 282.0"/>
<path d="M700.5 291.5L700.5 275.7M697.1 282.1L700.5 275.7L703.9 282.1"/>
<path d="M718.5 291.5L718.5 277.0M715.4 282.9L718.5 277.0L721.6 282.9"/>
<path d="M737.5 291.5L737.5 277.0M734.4 282.9L737.5 277.0L740.6 282.9"/>
<path d="M755.5 291.5L755.5 277.0M752.4 282.9L755.5 277.0L758.6 282.9"/>
<path d="M773.5 291.5L773.5 274.9M769.9 281.6L773.5 274.9L777.1 281.6"/>
<path d="M791.5 291.5L791.5 273.7M787.7 281.0L791.5 273.7L795.3 281.0"/>
<path d="M228.5 309.5L215.8 306.1M220.2 310.2L215.8 306.1L221.7 304.7"/>
<path d="M246.5 309.5L234.6 303.9M238.2 308.8L234.6 303.9L240.6 303.6"/>
<path d="M264.5 309.5L253.7 302.0M256.5 307.3L253.7 302.0L259.7 302.7"/>
<path d="M282.5 309.5L274.1 299.4M275.3 305.3L274.1 299.4L279.7 301.7"/>
<path d="M300.5 309.5L292.6 295.9M292.9 303.1L292.6 295.9L298.8 299.7"/>
<path d="M318.5 309.5L310.2 295.1M310.4 302.7L310.2 295.1L316.7 299.1"/>
<path d="M500.5 309.5L494.9 297.6M494.6 303.6L494.9 297.6L499.8 301.2"/>
<path d="M518.5 309.5L515.1 296.8M513.7 302.7L515.1 296.8L519.2 301.2"/>
<path d="M537.5 309.5L535.7 296.5M533.6 302.2L535.7 296.5L539.2 301.4"/>
<path d="M555.5 309.5L554.4 296.4M552.0 302.0L554.4 296.4L557.6 301.5"/>
<path d="M573.5 309.5L573.5 296.4M570.7 301.7L573.5 296.4L576.3 301.7"/>
<path d="M591.5 309.5L591.5 296.4M588.7 301.7L591.5 296.4L594.3 301.7"/>
<path d="M609.5 309.5L609.5 296.4M606.7 301.7L609.5 296.4L612.3 301.7"/>
<path d="M627.5 309.5L627.5 296.4M624.7 301.7L627.5 296.4L630.3 301.7"/>
<path d="M646.5 309.5L646.5 295.0M643.4 300.9L646.5 295.0L649.6 300.9"/>
<path d="M664.5 309.5L664.5 295.0M661.4 300.9L664.5 295.0L667.6 300.9"/>
<path d="M682.5 309.5L682.5 293.7M679.1 300.1L682.5 293.7L685.9 300.1"/>
<path d="M700.5 309.5L700.5 293.7M697.1 300.1L700.5 293.7L703.9 300.1"/>
<path d="M718.5 309.5L718.5 295.0M715.4 300.9L718.5 295.0L721.6 300.9"/>
<path d="M737.5 309.5L737.5 296.4M734.7 301.7L737.5 296.4L740.3 301.7"/>
<path d="M755.5 309.5L755.5 296.4M752.7 301.7L755.5 296.4L758.3 301.7"/>
<path d="M773.5 309.5L773.5 295.0M770.4 300.9L773.5 295.0L776.6 300.9"/>
<path d="M791.5 309.5L791.5 293.7M788.1 300.1L791.5 293.7L794.9 300.1"/>
<path d="M264.5 327.5L253.4 323.5M257.1 327.5L253.4 323.5L258.8 322.7"/>
<path d="M282.5 327.5L271.8 322.5M275.1 326.9L271.8 322.5L277.2 322.2"/>
<path d="M300.5 327.5L288.6 319.2M291.6 325.1L288.6 319.2L295.2 320.0"/>
<path d="M318.5 327.5L305.7 316.8M308.6 323.9L305.7 316.8L313.2 318.4"/>
<path d="M337.5 327.5L324.7 316.8M327.6 323.9L324.7 316.8L332.2 318.4"/>
<path d="M355.5 327.5L341.9 318.0M345.3 324.8L341.9 318.0L349.5 318.9"/>
<path d="M373.5 327.5L359.9 318.0M363.3 324.8L359.9 318.0L367.5 318.9"/>
<path d="M391.5 327.5L377.9 318.0M381.3 324.8L377.9 318.0L385.5 318.9"/>
<path d="M409.5 327.5L395.9 318.0M399.3 324.8L395.9 318.0L403.5 318.9"/>
<path d="M428.5 327.5L414.9 318.0M418.3 324.8L414.9 318.0L422.5 318.9"/>
<path d="M446.5 327.5L434.4 317.4M437.1 324.1L434.4 317.4L441.5 318.9"/>
<path d="M464.5 327.5L455.2 316.4M456.6 322.9L455.2 316.4L461.4 318.9"/>
<path d="M482.5 327.5L475.9 316.1M476.1 322.2L475.9 316.1L481.1 319.3"/>
<path d="M500.5 327.5L496.5 316.4M495.7 321.8L496.5 316.4L500.5 320.1"/>
<path d="M518.5 327.5L517.4 314.4M515.0 320.0L517.4 314.4L520.6 319.5"/>
<path d="M537.5 327.5L538.6 314.4M535.4 319.5L538.6 314.4L541.0 320.0"/>
<path d="M555.5 327.5L557.8 314.6M554.1 319.3L557.8 314.6L559.7 320.3"/>
<path d="M573.5 327.5L576.9 314.8M572.8 319.2L576.9 314.8L578.3 320.7"/>
<path d="M591.5 327.5L594.9 314.8M590.8 319.2L594.9 314.8L596.3 320.7"/>
<path d="M609.5 327.5L613.3 313.5M608.7 318.4L613.3 313.5L614.8 320.0"/>
<path d="M627.5 327.5L631.3 313.5M626.7 318.4L631.3 313.5L632.8 320.0"/>
<path d="M646.5 327.5L647.8 313.0M644.1 318.6L647.8 313.0L650.4 319.2"/>
<path d="M664.5 327.5L664.5 313.0M661.4 318.9L664.5 313.0L667.6 318.9"/>
<path d="M682.5 327.5L682.5 313.0M679.4 318.9L682.5 313.0L685.6 318.9"/>
<path d="M700.5 327.5L700.5 313.0M697.4 318.9L700.5 313.0L703.6 318.9"/>
<path d="M718.5 327.5L718.5 313.0M715.4 318.9L718.5 313.0L721.6 318.9"/>
<path d="M737.5 327.5L737.5 314.4M734.7 319.7L737.5 314.4L740.3 319.7"/>
<path d="M755.5 327.5L755.5 315.7M753.0 320.5L755.5 315.7L758.0 320.5"/>
<path d="M773.5 327.5L773.5 314.4M770.7 319.7L773.5 314.4L776.3 319.7"/>
<path d="M791.5 327.5L791.5 311.7M788.1 318.1L791.5 311.7L794.9 318.1"/>
<path d="M300.5 345.5L287.4 344.4M292.5 347.6L287.4 344.4L293.0 342.0"/>
<path d="M318.5 345.5L306.7 345.1M311.4 347.8L306.7 345.1L311.6 342.7"/>
<path d="M337.5 345.5L325.7 345.1M330.4 347.8L325.7 345.1L330.6 342.7"/>
<path d="M355.5 345.5L343.7 345.1M348.4 347.8L343.7 345.1L348.6 342.7"/>
<path d="M373.5 345.5L361.7 345.1M366.4 347.8L361.7 345.1L366.6 342.7"/>
<path d="M391.5 345.5L379.7 345.1M384.4 347.8L379.7 345.1L384.6 342.7"/>
<path d="M409.5 345.5L397.9 343.5M402.2 346.8L397.9 343.5L403.1 341.8"/>
<path d="M428.5 345.5L417.4 341.5M421.1 345.5L417.4 341.5L422.8 340.7"/>
<path d="M446.5 345.5L437.5 337.9M439.5 343.0L437.5 337.9L442.8 339.1"/>
<path d="M464.5 345.5L457.8 335.9M458.4 341.2L457.8 335.9L462.6 338.3"/>
<path d="M482.5 345.5L478.5 334.4M477.7 339.8L478.5 334.4L482.5 338.1"/>
<path d="M500.5 345.5L499.6 335.2M497.7 339.6L499.6 335.2L502.2 339.2"/>
<path d="M518.5 345.5L521.5 334.1M517.9 338.1L521.5 334.1L522.8 339.4"/>
<path d="M537.5 345.5L543.1 333.6M538.2 337.2L543.1 333.6L543.4 339.6"/>
<path d="M555.5 345.5L562.1 334.1M556.9 337.3L562.1 334.1L561.9 340.2"/>
<path d="M573.5 345.5L580.1 334.1M574.9 337.3L580.1 334.1L579.9 340.2"/>
<path d="M591.5 345.5L597.1 333.6M592.2 337.2L597.1 333.6L597.4 339.6"/>
<path d="M609.5 345.5L615.6 332.3M610.3 336.4L615.6 332.3L616.0 339.0"/>
<path d="M627.5 345.5L632.5 331.9M627.5 336.3L632.5 331.9L633.4 338.5"/>
<path d="M646.5 345.5L647.6 332.4M644.4 337.5L647.6 332.4L650.0 338.0"/>
<path d="M664.5 345.5L664.5 332.4M661.7 337.7L664.5 332.4L667.3 337.7"/>
<path d="M682.5 345.5L682.5 331.0M679.4 336.9L682.5 331.0L685.6 336.9"/>
<path d="M700.5 345.5L700.5 329.7M697.1 336.1L700.5 329.7L703.9 336.1"/>
<path d="M718.5 345.5L718.5 329.7M715.1 336.1L718.5 329.7L721.9 336.1"/>
<path d="M737.5 345.5L737.5 331.0M734.4 336.9L737.5 331.0L740.6 336.9"/>
<path d="M755.5 345.5L755.5 333.7M753.0 338.5L755.5 333.7L758.0 338.5"/>
<path d="M773.5 345.5L773.5 333.7M771.0 338.5L773.5 333.7L776.0 338.5"/>
<path d="M791.5 345.5L791.5 331.0M788.4 336.9L791.5 331.0L794.6 336.9"/>
<path d="M300.5 364.5L287.6 366.8M293.3 368.7L287.6 366.8L292.3 363.1"/>
<path d="M318.5 364.5L308.5 367.2M313.1 368.3L308.5 367.2L312.0 363.9"/>
<path d="M337.5 364.5L327.4 367.0M332.0 368.1L327.4 367.0L331.0 363.8"/>
<path d="M355.5 364.5L345.4 366.7M350.0 368.0L345.4 366.7L349.0 363.6"/>
<path d="M373.5 364.5L363.3 366.5M367.9 367.9L363.3 366.5L367.0 363.5"/>
<path d="M391.5 364.5L382.6 366.1M386.6 367.3L382.6 366.1L385.9 363.5"/>
<path d="M409.5 364.5L400.5 363.7M404.0 366.0L400.5 363.7L404.3 362.1"/>
<path d="M428.5 364.5L420.3 360.7M422.8 364.0L420.3 360.7L424.5 360.5"/>
<path d="M446.5 364.5L440.1 358.1M441.3 362.1L440.1 358.1L444.1 359.3"/>
<path d="M464.5 364.5L460.7 356.3M460.5 360.5L460.7 356.3L464.0 358.8"/>
<path d="M482.5 364.5L479.8 354.5M478.7 359.1L479.8 354.5L483.1 358.0"/>
<path d="M500.5 364.5L500.5 352.7M498.0 357.5L500.5 352.7L503.0 357.5"/>
<path d="M518.5 364.5L519.6 351.4M516.4 356.5L519.6 351.4L522.0 357.0"/>
<path d="M537.5 364.5L542.5 350.9M537.5 355.3L542.5 350.9L543.4 357.5"/>
<path d="M555.5 364.5L564.8 353.4M558.6 355.9L564.8 353.4L563.4 359.9"/>
<path d="M573.5 364.5L583.6 356.1M577.7 357.3L583.6 356.1L581.3 361.7"/>
<path d="M591.5 364.5L600.8 355.2M595.0 357.0L600.8 355.2L599.0 361.0"/>
<path d="M609.5 364.5L617.0 353.7M611.7 356.5L617.0 353.7L616.3 359.7"/>
<path d="M627.5 364.5L632.0 352.1M627.5 356.2L632.0 352.1L632.8 358.1"/>
<path d="M646.5 364.5L647.6 351.4M644.4 356.5L647.6 351.4L650.0 357.0"/>
<path d="M664.5 364.5L664.5 350.0M661.4 355.9L664.5 350.0L667.6 355.9"/>
<path d="M682.5 364.5L681.8 348.8M678.7 355.3L681.8 348.8L685.5 355.0"/>
<path d="M700.5 364.5L699.0 347.9M696.1 355.0L699.0 347.9L703.2 354.3"/>
<path d="M718.5 364.5L715.4 347.0M712.9 354.8L715.4 347.0L720.4 353.5"/>
<path d="M737.5 364.5L735.0 348.0M732.4 355.3L735.0 348.0L739.5 354.2"/>
<path d="M755.5 364.5L753.8 351.5M751.7 357.1L753.8 351.5L757.3 356.4"/>
<path d="M773.5 364.5L772.2 352.8M770.2 357.8L772.2 352.8L775.3 357.3"/>
<path d="M791.5 364.5L790.4 351.4M788.0 357.0L790.4 351.4L793.6 356.5"/>
<path d="M282.5 382.5L269.3 388.6M276.0 389.0L269.3 388.6L273.4 383.3"/>
<path d="M300.5 382.5L289.1 389.1M295.2 388.9L289.1 389.1L292.3 383.9"/>
<path d="M318.5 382.5L309.4 387.4M314.1 387.4L309.4 387.4L312.0 383.5"/>
<path d="M337.5 382.5L328.2 387.2M333.0 387.3L328.2 387.2L331.0 383.3"/>
<path d="M355.5 382.5L347.3 386.3M351.5 386.5L347.3 386.3L349.8 383.0"/>
<path d="M373.5 382.5L366.9 384.9M370.1 385.3L366.9 384.9L369.1 382.5"/>
<path d="M391.5 382.5L384.6 383.7M387.7 384.7L384.6 383.7L387.1 381.7"/>
<path d="M409.5 382.5L404.8 380.8M406.3 382.5L404.8 380.8L407.1 380.5"/>
<path d="M428.5 382.5L424.1 380.0M425.4 381.9L424.1 380.0L426.5 380.1"/>
<path d="M446.5 382.5L442.6 379.3M443.5 381.4L442.6 379.3L444.9 379.7"/>
<path d="M464.5 382.5L461.0 376.4M461.1 379.6L461.0 376.4L463.7 378.1"/>
<path d="M482.5 382.5L479.4 374.0M478.8 378.1L479.4 374.0L482.5 376.8"/>
<path d="M500.5 382.5L499.5 370.8M497.4 375.8L499.5 370.8L502.4 375.3"/>
<path d="M518.5 382.5L518.5 366.7M515.1 373.1L518.5 366.7L521.9 373.1"/>
<path d="M537.5 382.5L542.9 367.7M537.5 372.5L542.9 367.7L543.9 374.9"/>
<path d="M555.5 382.5L566.6 373.2M560.1 374.6L566.6 373.2L564.1 379.4"/>
<path d="M573.5 382.5L584.2 377.5M578.8 377.2L584.2 377.5L580.9 381.9"/>
<path d="M591.5 382.5L600.9 378.1M596.1 377.9L600.9 378.1L598.0 381.9"/>
<path d="M609.5 382.5L615.3 375.6M611.4 377.2L615.3 375.6L614.4 379.7"/>
<path d="M627.5 382.5L630.2 372.5M626.9 376.0L630.2 372.5L631.3 377.1"/>
<path d="M646.5 382.5L646.5 369.4M643.7 374.7L646.5 369.4L649.3 374.7"/>
<path d="M664.5 382.5L663.7 368.0M660.9 374.1L663.7 368.0L667.2 373.7"/>
<path d="M682.5 382.5L680.6 366.0M677.8 373.1L680.6 366.0L685.0 372.3"/>
<path d="M700.5 382.5L697.4 365.0M694.9 372.8L697.4 365.0L702.4 371.5"/>
<path d="M718.5 382.5L710.0 364.2M709.5 372.4L710.0 364.2L716.5 369.1"/>
<path d="M737.5 382.5L728.6 365.8M728.6 374.0L728.6 365.8L735.4 370.4"/>
<path d="M755.5 382.5L750.1 367.7M749.1 374.9L750.1 367.7L755.5 372.5"/>
<path d="M773.5 382.5L771.2 369.6M769.3 375.3L771.2 369.6L774.9 374.3"/>
<path d="M791.5 382.5L790.5 370.8M788.4 375.8L790.5 370.8L793.4 375.3"/>
<path d="M282.5 400.5L270.6 408.8M277.2 408.0L270.6 408.8L273.6 402.9"/>
<path d="M300.5 400.5L290.1 408.6M296.1 407.5L290.1 408.6L292.6 403.1"/>
<path d="M318.5 400.5L308.7 407.0M314.1 406.5L308.7 407.0L311.3 402.3"/>
<path d="M337.5 400.5L328.4 405.6M333.2 405.5L328.4 405.6L331.0 401.6"/>
<path d="M355.5 400.5L347.3 404.3M351.5 404.5L347.3 404.3L349.8 401.0"/>
<path d="M373.5 400.5L368.5 400.9M370.6 401.8L368.5 400.9L370.4 399.7"/>
<path d="M391.5 400.5L384.5 400.5M387.3 402.0L384.5 400.5L387.3 399.0"/>
<path d="M409.5 400.5L402.5 399.9M405.2 401.6L402.5 399.9L405.5 398.6"/>
<path d="M428.5 400.5L421.5 399.9M424.2 401.6L421.5 399.9L424.5 398.6"/>
<path d="M446.5 400.5L439.9 398.1M442.1 400.5L439.9 398.1L443.1 397.7"/>
<path d="M464.5 400.5L458.1 394.1M459.3 398.1L458.1 394.1L462.1 395.3"/>
<path d="M482.5 400.5L478.1 391.1M477.9 395.9L478.1 391.1L481.9 394.0"/>
<path d="M500.5 400.5L499.2 386.0M496.6 392.2L499.2 386.0L502.9 391.6"/>
<path d="M518.5 400.5L518.5 381.6M514.7 388.8L518.5 381.6L522.3 388.8"/>
<path d="M537.5 400.5L534.0 380.6M531.5 388.4L534.0 380.6L539.0 387.0"/>
<path d="M555.5 400.5L557.8 387.6M554.1 392.3L557.8 387.6L559.7 393.3"/>
<path d="M573.5 400.5L576.5 400.0M574.6 399.4L576.5 400.0L574.9 401.2"/>
<path d="M591.5 400.5L592.7 400.7"/>
<path d="M609.5 400.5L609.5 397.4M608.6 399.2L609.5 397.4L610.4 399.2"/>
<path d="M627.5 400.5L627.5 391.5M625.6 395.2L627.5 391.5L629.4 395.2"/>
<path d="M646.5 400.5L646.5 388.7M644.0 393.5L646.5 388.7L649.0 393.5"/>
<path d="M664.5 400.5L664.5 386.0M661.4 391.9L664.5 386.0L667.6 391.9"/>
<path d="M682.5 400.5L681.0 383.9M678.1 391.0L681.0 383.9L685.2 390.3"/>
<path d="M700.5 400.5L697.4 383.0M694.9 390.8L697.4 383.0L702.4 389.5"/>
<path d="M718.5 400.5L710.5 383.3M710.1 391.5L710.5 383.3L717.0 388.3"/>
<path d="M737.5 400.5L727.4 383.0M727.7 391.2L727.4 383.0L734.3 387.3"/>
<path d="M755.5 400.5L747.5 383.3M747.1 391.5L747.5 383.3L754.0 388.3"/>
<path d="M773.5 400.5L769.4 385.3M767.8 392.3L769.4 385.3L774.4 390.6"/>
<path d="M791.5 400.5L789.7 387.5M787.6 393.2L789.7 387.5L793.2 392.4"/>
<path d="M300.5 418.5L288.4 428.6M295.5 427.1L288.4 428.6L291.1 421.9"/>
<path d="M318.5 418.5L306.6 426.8M313.2 426.0L306.6 426.8L309.6 420.9"/>
<path d="M337.5 418.5L327.3 424.4M332.7 424.2L327.3 424.4L330.2 419.8"/>
<path d="M355.5 418.5L346.1 422.9M350.9 423.1L346.1 422.9L349.0 419.1"/>
<path d="M373.5 418.5L364.6 420.1M368.6 421.3L364.6 420.1L367.9 417.5"/>
<path d="M391.5 418.5L384.5 419.1M387.5 420.4L384.5 419.1L387.2 417.4"/>
<path d="M409.5 418.5L400.5 417.7M404.0 420.0L400.5 417.7L404.3 416.1"/>
<path d="M428.5 418.5L419.6 416.9M422.9 419.5L419.6 416.9L423.6 415.7"/>
<path d="M446.5 418.5L437.1 414.1M440.0 417.9L437.1 414.1L441.9 413.9"/>
<path d="M464.5 418.5L456.9 409.5M458.1 414.8L456.9 409.5L462.0 411.5"/>
<path d="M482.5 418.5L477.5 407.8M477.2 413.2L477.5 407.8L481.9 411.1"/>
<path d="M500.5 418.5L497.8 403.0M495.5 409.9L497.8 403.0L502.2 408.7"/>
<path d="M518.5 418.5L516.7 398.4M513.5 405.9L516.7 398.4L521.2 405.2"/>
<path d="M537.5 418.5L529.5 396.6M528.4 404.8L529.5 396.6L535.6 402.1"/>
<path d="M555.5 418.5L541.2 404.2M543.6 412.0L541.2 404.2L549.0 406.6"/>
<path d="M573.5 418.5L559.2 416.0M564.5 420.1L559.2 416.0L565.6 413.9"/>
<path d="M591.5 418.5L581.1 418.5M585.3 420.7L581.1 418.5L585.3 416.3"/>
<path d="M609.5 418.5L606.6 417.5M608.0 418.9L606.6 417.5L608.6 417.2"/>
<path d="M627.5 418.5L624.4 410.0M623.8 414.1L624.4 410.0L627.5 412.8"/>
<path d="M646.5 418.5L645.5 406.8M643.4 411.8L645.5 406.8L648.4 411.3"/>
<path d="M664.5 418.5L664.5 404.0M661.4 409.9L664.5 404.0L667.6 409.9"/>
<path d="M682.5 418.5L681.4 402.8M678.5 409.4L681.4 402.8L685.2 408.9"/>
<path d="M700.5 418.5L698.2 402.0M695.6 409.2L698.2 402.0L702.7 408.2"/>
<path d="M718.5 418.5L712.4 401.8M711.3 409.9L712.4 401.8L718.5 407.3"/>
<path d="M737.5 418.5L729.5 401.3M729.1 409.5L729.5 401.3L736.0 406.3"/>
<path d="M755.5 418.5L747.5 401.3M747.1 409.5L747.5 401.3L754.0 406.3"/>
<path d="M773.5 418.5L767.4 401.8M766.3 409.9L767.4 401.8L773.5 407.3"/>
<path d="M791.5 418.5L788.8 403.0M786.5 409.9L788.8 403.0L793.2 408.7"/>
<path d="M337.5 436.5L326.7 444.0M332.7 443.3L326.7 444.0L329.5 438.7"/>
<path d="M355.5 436.5L345.3 442.4M350.7 442.2L345.3 442.4L348.2 437.8"/>
<path d="M373.5 436.5L363.7 440.1M368.5 440.7L363.7 440.1L366.9 436.5"/>
<path d="M391.5 436.5L382.6 438.1M386.6 439.3L382.6 438.1L385.9 435.5"/>
<path d="M409.5 436.5L400.5 436.2M404.1 438.3L400.5 436.2L404.2 434.4"/>
<path d="M428.5 436.5L419.6 434.9M422.9 437.5L419.6 434.9L423.6 433.7"/>
<path d="M446.5 436.5L437.1 432.1M440.0 435.9L437.1 432.1L441.9 431.9"/>
<path d="M464.5 436.5L457.8 428.5M458.8 433.2L457.8 428.5L462.3 430.3"/>
<path d="M482.5 436.5L476.6 426.3M476.8 431.7L476.6 426.3L481.2 429.2"/>
<path d="M500.5 436.5L495.5 422.9M494.6 429.5L495.5 422.9L500.5 427.3"/>
<path d="M518.5 436.5L516.2 420.0M513.6 427.2L516.2 420.0L520.7 426.2"/>
<path d="M537.5 436.5L537.5 419.9M533.9 426.6L537.5 419.9L541.1 426.6"/>
<path d="M555.5 436.5L556.3 420.8M552.6 427.0L556.3 420.8L559.4 427.3"/>
<path d="M573.5 436.5L572.4 423.4M570.0 429.0L572.4 423.4L575.6 428.5"/>
<path d="M591.5 436.5L588.4 428.0M587.8 432.1L588.4 428.0L591.5 430.8"/>
<path d="M609.5 436.5L605.5 430.8M605.9 434.0L605.5 430.8L608.4 432.2"/>
<path d="M627.5 436.5L621.6 426.3M621.8 431.7L621.6 426.3L626.2 429.2"/>
<path d="M646.5 436.5L642.0 424.1M641.2 430.1L642.0 424.1L646.5 428.2"/>
<path d="M664.5 436.5L662.0 422.2M659.9 428.6L662.0 422.2L666.1 427.5"/>
<path d="M682.5 436.5L682.5 420.7M679.1 427.1L682.5 420.7L685.9 427.1"/>
<path d="M700.5 436.5L700.5 419.9M696.9 426.6L700.5 419.9L704.1 426.6"/>
<path d="M718.5 436.5L720.0 419.9M715.8 426.3L720.0 419.9L722.9 427.0"/>
<path d="M737.5 436.5L740.6 419.0M735.6 425.5L740.6 419.0L743.1 426.8"/>
<path d="M755.5 436.5L760.1 419.4M754.5 425.3L760.1 419.4L761.9 427.3"/>
<path d="M773.5 436.5L779.6 419.8M773.5 425.3L779.6 419.8L780.7 427.9"/>
<path d="M791.5 436.5L797.2 420.9M791.5 426.0L797.2 420.9L798.3 428.4"/>
<path d="M337.5 454.5L323.1 462.8M330.7 462.6L323.1 462.8L327.1 456.3"/>
<path d="M355.5 454.5L341.6 461.9M348.8 461.9L341.6 461.9L345.6 455.9"/>
<path d="M373.5 454.5L361.0 458.6M367.0 459.6L361.0 458.6L365.2 454.2"/>
<path d="M391.5 454.5L381.2 455.4M385.6 457.3L381.2 455.4L385.2 452.8"/>
<path d="M409.5 454.5L400.5 453.7M404.0 456.0L400.5 453.7L404.3 452.1"/>
<path d="M428.5 454.5L419.8 452.2M422.8 455.0L419.8 452.2L423.8 451.2"/>
<path d="M446.5 454.5L438.7 450.0M440.9 453.5L438.7 450.0L442.8 450.1"/>
<path d="M464.5 454.5L457.8 446.5M458.8 451.2L457.8 446.5L462.3 448.3"/>
<path d="M482.5 454.5L476.6 444.3M476.8 449.7L476.6 444.3L481.2 447.2"/>
<path d="M500.5 454.5L495.5 440.9M494.6 447.5L495.5 440.9L500.5 445.3"/>
<path d="M518.5 454.5L516.2 438.0M513.6 445.2L516.2 438.0L520.7 444.2"/>
<path d="M537.5 454.5L537.5 438.7M534.1 445.1L537.5 438.7L540.9 445.1"/>
<path d="M555.5 454.5L556.3 440.0M552.8 445.7L556.3 440.0L559.1 446.1"/>
<path d="M573.5 454.5L572.4 441.4M570.0 447.0L572.4 441.4L575.6 446.5"/>
<path d="M591.5 454.5L588.4 446.0M587.8 450.1L588.4 446.0L591.5 448.8"/>
<path d="M609.5 454.5L603.5 446.0M604.1 450.7L603.5 446.0L607.8 448.2"/>
<path d="M627.5 454.5L622.5 443.8M622.2 449.2L622.5 443.8L626.9 447.1"/>
<path d="M646.5 454.5L642.4 442.0M641.4 448.0L642.4 442.0L646.8 446.2"/>
<path d="M664.5 454.5L662.5 440.1M660.2 446.4L662.5 440.1L666.4 445.5"/>
<path d="M682.5 454.5L682.5 438.7M679.1 445.1L682.5 438.7L685.9 445.1"/>
<path d="M700.5 454.5L701.2 437.9M697.3 444.5L701.2 437.9L704.5 444.8"/>
<path d="M718.5 454.5L720.0 437.9M715.8 444.3L720.0 437.9L722.9 445.0"/>
<path d="M737.5 454.5L740.4 438.1M735.7 444.1L740.4 438.1L742.8 445.4"/>
<path d="M755.5 454.5L759.8 438.4M754.6 444.0L759.8 438.4L761.5 445.9"/>
<path d="M773.5 454.5L779.2 438.9M773.5 444.0L779.2 438.9L780.3 446.4"/>
<path d="M791.5 454.5L797.7 439.1M791.9 444.0L797.7 439.1L798.5 446.7"/>
<path d="M337.5 473.5L323.9 481.4M331.1 481.1L323.9 481.4L327.7 475.2"/>
<path d="M355.5 473.5L342.7 480.3M349.4 480.3L342.7 480.3L346.4 474.8"/>
<path d="M373.5 473.5L362.3 477.1M367.6 478.1L362.3 477.1L366.1 473.2"/>
<path d="M391.5 473.5L382.5 473.5M386.2 475.4L382.5 473.5L386.2 471.6"/>
<path d="M409.5 473.5L402.5 472.9M405.2 474.6L402.5 472.9L405.5 471.6"/>
<path d="M428.5 473.5L421.9 471.1M424.1 473.5L421.9 471.1L425.1 470.7"/>
<path d="M446.5 473.5L439.1 468.3M441.0 472.0L439.1 468.3L443.2 468.8"/>
<path d="M464.5 473.5L458.5 465.0M459.1 469.7L458.5 465.0L462.8 467.2"/>
<path d="M482.5 473.5L478.1 464.1M477.9 468.9L478.1 464.1L481.9 467.0"/>
<path d="M500.5 473.5L497.5 462.1M496.2 467.4L497.5 462.1L501.1 466.1"/>
<path d="M518.5 473.5L517.2 459.0M514.6 465.2L517.2 459.0L520.9 464.6"/>
<path d="M537.5 473.5L537.5 457.7M534.1 464.1L537.5 457.7L540.9 464.1"/>
<path d="M555.5 473.5L556.8 459.0M553.1 464.6L556.8 459.0L559.4 465.2"/>
<path d="M573.5 473.5L571.5 461.9M569.8 467.1L571.5 461.9L574.8 466.2"/>
<path d="M591.5 473.5L587.7 465.3M587.5 469.5L587.7 465.3L591.0 467.8"/>
<path d="M609.5 473.5L604.3 464.5M604.5 469.3L604.3 464.5L608.4 467.0"/>
<path d="M627.5 473.5L623.0 461.1M622.2 467.1L623.0 461.1L627.5 465.2"/>
<path d="M646.5 473.5L645.4 460.4M643.0 466.0L645.4 460.4L648.6 465.5"/>
<path d="M664.5 473.5L665.8 459.0M662.1 464.6L665.8 459.0L668.4 465.2"/>
<path d="M682.5 473.5L684.7 457.9M680.4 463.8L684.7 457.9L687.2 464.7"/>
<path d="M700.5 473.5L703.4 457.1M698.7 463.1L703.4 457.1L705.8 464.4"/>
<path d="M718.5 473.5L722.8 457.4M717.6 463.0L722.8 457.4L724.5 464.9"/>
<path d="M737.5 473.5L743.2 457.9M737.5 463.0L743.2 457.9L744.3 465.4"/>
<path d="M755.5 473.5L762.2 459.2M756.4 463.6L762.2 459.2L762.5 466.5"/>
<path d="M773.5 473.5L782.5 460.6M776.1 463.9L782.5 460.6L781.7 467.8"/>
<path d="M791.5 473.5L801.6 461.4M794.9 464.1L801.6 461.4L800.1 468.5"/>
<path d="M318.5 491.5L304.4 500.3M312.0 499.8L304.4 500.3L308.2 493.7"/>
<path d="M337.5 491.5L324.0 499.6M331.2 499.2L324.0 499.6L327.7 493.4"/>
<path d="M355.5 491.5L342.9 498.8M349.6 498.5L342.9 498.8L346.5 493.1"/>
<path d="M373.5 491.5L362.4 495.5M367.8 496.3L362.4 495.5L366.1 491.5"/>
<path d="M391.5 491.5L382.5 491.5M386.2 493.4L382.5 491.5L386.2 489.6"/>
<path d="M409.5 491.5L402.5 490.9M405.2 492.6L402.5 490.9L405.5 489.6"/>
<path d="M428.5 491.5L421.9 489.1M424.1 491.5L421.9 489.1L425.1 488.7"/>
<path d="M446.5 491.5L441.1 487.0M442.3 490.0L441.1 487.0L444.3 487.7"/>
<path d="M464.5 491.5L460.0 483.7M460.1 487.8L460.0 483.7L463.5 485.9"/>
<path d="M482.5 491.5L480.2 482.8M479.2 486.8L480.2 482.8L483.0 485.8"/>
<path d="M500.5 491.5L500.5 481.1M498.3 485.3L500.5 481.1L502.7 485.3"/>
<path d="M518.5 491.5L519.5 479.8M516.6 484.3L519.5 479.8L521.6 484.8"/>
<path d="M537.5 491.5L538.6 478.4M535.4 483.5L538.6 478.4L541.0 484.0"/>
<path d="M555.5 491.5L560.0 479.1M555.5 483.2L560.0 479.1L560.8 485.1"/>
<path d="M573.5 491.5L578.5 480.8M574.1 484.1L578.5 480.8L578.8 486.2"/>
<path d="M591.5 491.5L593.1 482.6M590.5 485.9L593.1 482.6L594.3 486.6"/>
<path d="M609.5 491.5L613.1 481.7M609.5 484.9L613.1 481.7L613.7 486.5"/>
<path d="M627.5 491.5L631.5 480.4M627.5 484.1L631.5 480.4L632.3 485.8"/>
<path d="M646.5 491.5L649.9 478.8M645.8 483.2L649.9 478.8L651.3 484.7"/>
<path d="M664.5 491.5L667.0 477.2M662.9 482.5L667.0 477.2L669.1 483.6"/>
<path d="M682.5 491.5L685.2 476.0M680.8 481.7L685.2 476.0L687.5 482.9"/>
<path d="M700.5 491.5L704.8 475.4M699.6 481.0L704.8 475.4L706.5 482.9"/>
<path d="M718.5 491.5L724.2 475.9M718.5 481.0L724.2 475.9L725.3 483.4"/>
<path d="M737.5 491.5L744.2 477.2M738.4 481.6L744.2 477.2L744.5 484.5"/>
<path d="M755.5 491.5L762.2 477.2M756.4 481.6L762.2 477.2L762.5 484.5"/>
<path d="M773.5 491.5L781.8 479.6M775.9 482.6L781.8 479.6L781.0 486.2"/>
<path d="M791.5 491.5L801.8 481.2M795.4 483.2L801.8 481.2L799.8 487.6"/>
<path d="M300.5 509.5L286.4 518.3M294.0 517.8L286.4 518.3L290.2 511.7"/>
<path d="M318.5 509.5L304.3 518.2M311.9 517.7L304.3 518.2L308.2 511.6"/>
<path d="M337.5 509.5L323.9 517.5M331.2 517.2L323.9 517.5L327.7 511.3"/>
<path d="M355.5 509.5L342.9 516.8M349.6 516.5L342.9 516.8L346.5 511.1"/>
<path d="M373.5 509.5L362.4 513.5M367.8 514.3L362.4 513.5L366.1 509.5"/>
<path d="M391.5 509.5L384.5 509.7M387.4 511.2L384.5 509.7L387.3 508.1"/>
<path d="M409.5 509.5L404.5 509.3M406.5 510.5L404.5 509.3L406.6 508.3"/>
<path d="M428.5 509.5L423.8 507.8M425.3 509.5L423.8 507.8L426.1 507.5"/>
<path d="M446.5 509.5L441.5 504.5M442.5 507.6L441.5 504.5L444.6 505.5"/>
<path d="M464.5 509.5L461.4 501.0M460.8 505.1L461.4 501.0L464.5 503.8"/>
<path d="M482.5 509.5L482.5 500.5M480.6 504.2L482.5 500.5L484.4 504.2"/>
<path d="M500.5 509.5L501.3 500.5M499.0 504.0L501.3 500.5L502.9 504.3"/>
<path d="M518.5 509.5L520.3 499.3M517.4 503.0L520.3 499.3L521.8 503.8"/>
<path d="M537.5 509.5L541.1 499.7M537.5 502.9L541.1 499.7L541.7 504.5"/>
<path d="M555.5 509.5L562.2 499.9M557.4 502.3L562.2 499.9L561.6 505.2"/>
<path d="M573.5 509.5L580.2 499.9M575.4 502.3L580.2 499.9L579.6 505.2"/>
<path d="M591.5 509.5L598.1 498.1M592.9 501.3L598.1 498.1L597.9 504.2"/>
<path d="M609.5 509.5L616.1 498.1M610.9 501.3L616.1 498.1L615.9 504.2"/>
<path d="M627.5 509.5L634.1 498.1M628.9 501.3L634.1 498.1L633.9 504.2"/>
<path d="M646.5 509.5L652.1 497.6M647.2 501.2L652.1 497.6L652.4 503.6"/>
<path d="M664.5 509.5L669.5 495.9M664.5 500.3L669.5 495.9L670.4 502.5"/>
<path d="M682.5 509.5L687.5 495.9M682.5 500.3L687.5 495.9L688.4 502.5"/>
<path d="M700.5 509.5L707.2 495.2M701.4 499.6L707.2 495.2L707.5 502.5"/>
<path d="M718.5 509.5L725.2 495.2M719.4 499.6L725.2 495.2L725.5 502.5"/>
<path d="M737.5 509.5L743.6 496.3M738.3 500.4L743.6 496.3L744.0 503.0"/>
<path d="M755.5 509.5L761.6 496.3M756.3 500.4L761.6 496.3L762.0 503.0"/>
<path d="M773.5 509.5L780.8 496.9M775.1 500.5L780.8 496.9L780.5 503.6"/>
<path d="M791.5 509.5L800.8 498.4M794.6 500.9L800.8 498.4L799.4 504.9"/>
<path d="M282.5 527.5L267.1 536.4M275.3 536.1L267.1 536.4L271.5 529.5"/>
<path d="M300.5 527.5L285.0 536.2M293.2 536.0L285.0 536.2L289.4 529.4"/>
<path d="M318.5 527.5L303.9 535.6M311.6 535.4L303.9 535.6L308.1 529.1"/>
<path d="M337.5 527.5L324.7 534.4M331.4 534.4L324.7 534.4L328.4 528.9"/>
<path d="M355.5 527.5L343.9 533.7M349.9 533.7L343.9 533.7L347.3 528.7"/>
<path d="M373.5 527.5L363.6 530.7M368.3 531.5L363.6 530.7L366.9 527.3"/>
<path d="M391.5 527.5L384.5 527.7M387.4 529.2L384.5 527.7L387.3 526.1"/>
<path d="M409.5 527.5L404.5 527.3M406.5 528.5L404.5 527.3L406.6 526.3"/>
<path d="M428.5 527.5L423.5 526.6M425.4 528.1L423.5 526.6L425.7 525.9"/>
<path d="M446.5 527.5L441.5 522.5M442.5 525.6L441.5 522.5L444.6 523.5"/>
<path d="M464.5 527.5L463.3 520.6M462.3 523.7L463.3 520.6L465.3 523.1"/>
<path d="M482.5 527.5L482.5 518.5M480.6 522.2L482.5 518.5L484.4 522.2"/>
<path d="M500.5 527.5L502.1 518.6M499.5 521.9L502.1 518.6L503.3 522.6"/>
<path d="M518.5 527.5L522.1 517.7M518.5 520.9L522.1 517.7L522.7 522.5"/>
<path d="M537.5 527.5L544.2 519.5M539.7 521.3L544.2 519.5L543.2 524.2"/>
<path d="M555.5 527.5L563.1 518.5M558.0 520.5L563.1 518.5L561.9 523.8"/>
<path d="M573.5 527.5L581.1 518.5M576.0 520.5L581.1 518.5L579.9 523.8"/>
<path d="M591.5 527.5L599.0 516.7M593.7 519.5L599.0 516.7L598.3 522.7"/>
<path d="M609.5 527.5L617.9 517.4M612.3 519.7L617.9 517.4L616.7 523.3"/>
<path d="M627.5 527.5L635.9 517.4M630.3 519.7L635.9 517.4L634.7 523.3"/>
<path d="M646.5 527.5L654.0 516.7M648.7 519.5L654.0 516.7L653.3 522.7"/>
<path d="M664.5 527.5L671.8 514.9M666.1 518.5L671.8 514.9L671.5 521.6"/>
<path d="M682.5 527.5L689.8 514.9M684.1 518.5L689.8 514.9L689.5 521.6"/>
<path d="M700.5 527.5L707.8 514.9M702.1 518.5L707.8 514.9L707.5 521.6"/>
<path d="M718.5 527.5L726.8 515.6M720.9 518.6L726.8 515.6L726.0 522.2"/>
<path d="M737.5 527.5L744.8 514.9M739.1 518.5L744.8 514.9L744.5 521.6"/>
<path d="M755.5 527.5L761.6 514.3M756.3 518.4L761.6 514.3L762.0 521.0"/>
<path d="M773.5 527.5L779.6 514.3M774.3 518.4L779.6 514.3L780.0 521.0"/>
<path d="M791.5 527.5L799.8 515.6M793.9 518.6L799.8 515.6L799.0 522.2"/>
<path d="M264.5 545.5L250.4 554.3M258.0 553.8L250.4 554.3L254.2 547.7"/>
<path d="M282.5 545.5L267.5 555.1M275.7 554.4L267.5 555.1L271.6 547.9"/>
<path d="M300.5 545.5L285.6 555.2M293.8 554.5L285.6 555.2L289.6 548.1"/>
<path d="M318.5 545.5L305.4 554.3M312.6 553.5L305.4 554.3L308.8 547.9"/>
<path d="M337.5 545.5L325.5 553.7M332.2 553.0L325.5 553.7L328.6 547.8"/>
<path d="M355.5 545.5L345.9 552.2M351.2 551.6L345.9 552.2L348.3 547.4"/>
<path d="M373.5 545.5L366.6 551.3M370.7 550.4L366.6 551.3L368.2 547.4"/>
<path d="M391.5 545.5L387.9 549.1M390.2 548.4L387.9 549.1L388.6 546.8"/>
<path d="M409.5 545.5L404.5 545.5M406.5 546.6L404.5 545.5L406.5 544.4"/>
<path d="M428.5 545.5L424.9 541.9M425.6 544.2L424.9 541.9L427.2 542.6"/>
<path d="M446.5 545.5L446.5 540.5M445.4 542.5L446.5 540.5L447.6 542.5"/>
<path d="M464.5 545.5L464.5 538.5M463.0 541.3L464.5 538.5L466.0 541.3"/>
<path d="M482.5 545.5L483.7 538.6M481.7 541.1L483.7 538.6L484.7 541.7"/>
<path d="M500.5 545.5L502.8 536.8M500.0 539.8L502.8 536.8L503.8 540.8"/>
<path d="M518.5 545.5L523.7 536.5M519.6 539.0L523.7 536.5L523.5 541.3"/>
<path d="M537.5 545.5L544.8 538.2M540.3 539.6L544.8 538.2L543.4 542.7"/>
<path d="M555.5 545.5L563.8 537.2M558.6 538.8L563.8 537.2L562.2 542.4"/>
<path d="M573.5 545.5L581.1 536.5M576.0 538.5L581.1 536.5L579.9 541.8"/>
<path d="M591.5 545.5L599.9 535.4M594.3 537.7L599.9 535.4L598.7 541.3"/>
<path d="M609.5 545.5L618.8 536.2M613.0 538.0L618.8 536.2L617.0 542.0"/>
<path d="M627.5 545.5L636.8 536.2M631.0 538.0L636.8 536.2L635.0 542.0"/>
<path d="M646.5 545.5L655.8 536.2M650.0 538.0L655.8 536.2L654.0 542.0"/>
<path d="M664.5 545.5L672.9 535.4M667.3 537.7L672.9 535.4L671.7 541.3"/>
<path d="M682.5 545.5L691.8 534.4M685.6 536.9L691.8 534.4L690.4 540.9"/>
<path d="M700.5 545.5L709.8 534.4M703.6 536.9L709.8 534.4L708.4 540.9"/>
<path d="M718.5 545.5L727.8 534.4M721.6 536.9L727.8 534.4L726.4 540.9"/>
<path d="M737.5 545.5L745.8 531.1M739.3 535.1L745.8 531.1L745.6 538.7"/>
<path d="M755.5 545.5L762.0 527.7M755.9 533.2L762.0 527.7L763.1 535.8"/>
<path d="M773.5 545.5L777.8 529.4M772.6 535.0L777.8 529.4L779.5 536.9"/>
<path d="M791.5 545.5L791.5 529.7M788.1 536.1L791.5 529.7L794.9 536.1"/>
<path d="M246.5 564.5L232.9 574.0M240.5 573.1L232.9 574.0L236.3 567.2"/>
<path d="M264.5 564.5L250.4 575.3M258.5 574.0L250.4 575.3L253.8 567.9"/>
<path d="M282.5 564.5L268.9 575.9M276.9 574.2L268.9 575.9L272.0 568.3"/>
<path d="M300.5 564.5L288.2 575.7M295.6 573.8L288.2 575.7L290.8 568.5"/>
<path d="M318.5 564.5L308.2 574.8M314.6 572.8L308.2 574.8L310.2 568.4"/>
<path d="M337.5 564.5L328.6 574.2M334.3 572.2L328.6 574.2L330.1 568.3"/>
<path d="M355.5 564.5L348.8 572.5M353.3 570.7L348.8 572.5L349.8 567.8"/>
<path d="M373.5 564.5L369.5 570.2M372.4 568.8L369.5 570.2L369.9 567.0"/>
<path d="M391.5 564.5L388.3 568.4M390.4 567.5L388.3 568.4L388.7 566.1"/>
<path d="M409.5 564.5L406.4 564.5M408.2 565.4L406.4 564.5L408.2 563.6"/>
<path d="M428.5 564.5L426.3 562.3M426.9 564.3L426.3 562.3L428.3 562.9"/>
<path d="M446.5 564.5L446.5 559.5M445.4 561.5L446.5 559.5L447.6 561.5"/>
<path d="M464.5 564.5L466.9 557.9M464.5 560.1L466.9 557.9L467.3 561.1"/>
<path d="M482.5 564.5L486.5 558.8M483.6 560.2L486.5 558.8L486.1 562.0"/>
<path d="M500.5 564.5L506.9 558.1M502.9 559.3L506.9 558.1L505.7 562.1"/>
<path d="M518.5 564.5L526.5 557.8M521.8 558.8L526.5 557.8L524.7 562.3"/>
<path d="M537.5 564.5L544.8 557.2M540.3 558.6L544.8 557.2L543.4 561.7"/>
<path d="M555.5 564.5L563.8 556.2M558.6 557.8L563.8 556.2L562.2 561.4"/>
<path d="M573.5 564.5L581.1 555.5M576.0 557.5L581.1 555.5L579.9 560.8"/>
<path d="M591.5 564.5L599.1 555.5M594.0 557.5L599.1 555.5L597.9 560.8"/>
<path d="M609.5 564.5L618.8 555.2M613.0 557.0L618.8 555.2L617.0 561.0"/>
<path d="M627.5 564.5L636.8 555.2M631.0 557.0L636.8 555.2L635.0 561.0"/>
<path d="M646.5 564.5L655.8 555.2M650.0 557.0L655.8 555.2L654.0 561.0"/>
<path d="M664.5 564.5L673.8 555.2M668.0 557.0L673.8 555.2L672.0 561.0"/>
<path d="M682.5 564.5L691.8 555.2M686.0 557.0L691.8 555.2L690.0 561.0"/>
<path d="M700.5 564.5L710.8 554.2M704.4 556.2L710.8 554.2L708.8 560.6"/>
<path d="M718.5 564.5L728.8 554.2M722.4 556.2L728.8 554.2L726.8 560.6"/>
<path d="M737.5 564.5L746.4 549.1M739.5 553.5L746.4 549.1L746.1 557.3"/>
<path d="M755.5 564.5L762.0 546.7M755.9 552.2L762.0 546.7L763.1 554.8"/>
<path d="M773.5 564.5L777.8 548.4M772.6 554.0L777.8 548.4L779.5 555.9"/>
<path d="M791.5 564.5L791.5 557.5M790.0 560.3L791.5 557.5L793.0 560.3"/>
<path d="M209.5 582.5L195.9 592.0M203.5 591.1L195.9 592.0L199.3 585.2"/>
<path d="M228.5 582.5L214.0 592.7M222.1 591.7L214.0 592.7L217.7 585.4"/>
<path d="M246.5 582.5L229.9 594.1M238.1 593.1L229.9 594.1L233.7 586.8"/>
<path d="M264.5 582.5L247.9 594.1M256.1 593.1L247.9 594.1L251.7 586.8"/>
<path d="M282.5 582.5L268.0 592.7M276.1 591.7L268.0 592.7L271.7 585.4"/>
<path d="M300.5 582.5L288.7 594.3M296.1 592.0L288.7 594.3L291.0 586.9"/>
<path d="M318.5 582.5L311.2 595.1M316.9 591.5L311.2 595.1L311.5 588.4"/>
<path d="M337.5 582.5L330.9 593.9M336.1 590.7L330.9 593.9L331.1 587.8"/>
<path d="M355.5 582.5L350.3 591.5M354.4 589.0L350.3 591.5L350.5 586.7"/>
<path d="M373.5 582.5L370.0 588.6M372.7 586.9L370.0 588.6L370.1 585.4"/>
<path d="M391.5 582.5L389.3 584.7M391.3 584.1L389.3 584.7L389.9 582.7"/>
<path d="M409.5 582.5L410.7 582.7"/>
<path d="M428.5 582.5L429.7 582.7"/>
<path d="M446.5 582.5L449.6 582.5M447.8 581.6L449.6 582.5L447.8 583.4"/>
<path d="M464.5 582.5L467.4 578.4M465.3 579.4L467.4 578.4L467.1 580.7"/>
<path d="M482.5 582.5L487.9 578.0M484.7 578.7L487.9 578.0L486.7 581.0"/>
<path d="M500.5 582.5L505.9 578.0M502.7 578.7L505.9 578.0L504.7 581.0"/>
<path d="M518.5 582.5L525.4 576.7M521.3 577.6L525.4 576.7L523.8 580.6"/>
<path d="M537.5 582.5L544.8 575.2M540.3 576.6L544.8 575.2L543.4 579.7"/>
<path d="M555.5 582.5L562.6 574.9M558.1 576.5L562.6 574.9L561.4 579.6"/>
<path d="M573.5 582.5L581.3 573.7M576.2 575.6L581.3 573.7L580.0 579.0"/>
<path d="M591.5 582.5L599.1 573.5M594.0 575.5L599.1 573.5L597.9 578.8"/>
<path d="M609.5 582.5L618.8 573.2M613.0 575.0L618.8 573.2L617.0 579.0"/>
<path d="M627.5 582.5L636.7 573.1M630.9 574.9L636.7 573.1L635.0 578.9"/>
<path d="M646.5 582.5L655.6 573.0M649.9 574.9L655.6 573.0L654.0 578.9"/>
<path d="M664.5 582.5L673.5 573.0M667.8 574.9L673.5 573.0L671.9 578.8"/>
<path d="M682.5 582.5L691.5 572.9M685.7 574.9L691.5 572.9L689.9 578.7"/>
<path d="M700.5 582.5L710.3 571.8M704.0 574.0L710.3 571.8L708.6 578.3"/>
<path d="M718.5 582.5L729.0 570.8M722.2 573.3L729.0 570.8L727.3 577.8"/>
<path d="M737.5 582.5L747.0 566.1M740.0 570.4L747.0 566.1L746.7 574.3"/>
<path d="M755.5 582.5L761.4 564.5M755.5 570.2L761.4 564.5L762.8 572.6"/>
<path d="M773.5 582.5L773.5 570.7M771.0 575.5L773.5 570.7L776.0 575.5"/>
<path d="M791.5 582.5L796.5 581.6M794.3 580.9L796.5 581.6L794.6 583.1"/>
<path d="M137.5 600.5L137.5 613.6M140.3 608.3L137.5 613.6L134.7 608.3"/>
<path d="M155.5 600.5L150.5 614.1M155.5 609.7L150.5 614.1L149.6 607.5"/>
<path d="M173.5 600.5L163.4 612.6M170.1 609.9L163.4 612.6L164.9 605.5"/>
<path d="M191.5 600.5L178.7 611.2M186.2 609.6L178.7 611.2L181.6 604.1"/>
<path d="M209.5 600.5L190.7 613.7M198.8 612.7L190.7 613.7L194.4 606.4"/>
<path d="M228.5 600.5L211.9 612.1M220.1 611.1L211.9 612.1L215.7 604.8"/>
<path d="M246.5 600.5L229.9 612.1M238.1 611.1L229.9 612.1L233.7 604.8"/>
<path d="M264.5 600.5L249.0 611.4M257.1 610.4L249.0 611.4L252.7 604.1"/>
<path d="M282.5 600.5L268.0 610.7M276.1 609.7L268.0 610.7L271.7 603.4"/>
<path d="M300.5 600.5L288.7 612.3M296.1 610.0L288.7 612.3L291.0 604.9"/>
<path d="M318.5 600.5L311.2 613.1M316.9 609.5L311.2 613.1L311.5 606.4"/>
<path d="M337.5 600.5L331.4 612.2M336.4 608.7L331.4 612.2L331.4 606.1"/>
<path d="M355.5 600.5L351.1 609.9M354.9 607.0L351.1 609.9L350.9 605.1"/>
<path d="M373.5 600.5L370.5 606.9M373.1 604.9L370.5 606.9L370.4 603.6"/>
<path d="M391.5 600.5L389.5 602.8M391.4 602.1L389.5 602.8L390.0 600.9"/>
<path d="M409.5 600.5L410.7 600.7"/>
<path d="M428.5 600.5L429.7 600.7"/>
<path d="M446.5 600.5L449.6 600.5M447.8 599.6L449.6 600.5L447.8 601.4"/>
<path d="M464.5 600.5L467.7 596.6M465.6 597.5L467.7 596.6L467.3 598.9"/>
<path d="M482.5 600.5L486.6 597.6M484.3 597.9L486.6 597.6L485.6 599.7"/>
<path d="M500.5 600.5L506.2 596.5M503.0 596.9L506.2 596.5L504.8 599.4"/>
<path d="M518.5 600.5L525.4 594.7M521.3 595.6L525.4 594.7L523.8 598.6"/>
<path d="M537.5 600.5L545.5 593.8M540.8 594.8L545.5 593.8L543.7 598.3"/>
<path d="M555.5 600.5L563.1 593.4M558.4 594.6L563.1 593.4L561.5 597.9"/>
<path d="M573.5 600.5L581.6 591.9M576.4 593.7L581.6 591.9L580.1 597.2"/>
<path d="M591.5 600.5L599.1 591.5M594.0 593.5L599.1 591.5L597.9 596.8"/>
<path d="M609.5 600.5L618.8 591.2M613.0 593.0L618.8 591.2L617.0 597.0"/>
<path d="M627.5 600.5L636.7 591.1M630.9 592.9L636.7 591.1L635.0 596.9"/>
<path d="M646.5 600.5L655.6 591.0M649.9 592.9L655.6 591.0L654.0 596.9"/>
<path d="M664.5 600.5L673.5 591.0M667.8 592.9L673.5 591.0L671.9 596.8"/>
<path d="M682.5 600.5L691.5 590.9M685.7 592.9L691.5 590.9L689.9 596.7"/>
<path d="M700.5 600.5L710.3 589.8M704.0 592.0L710.3 589.8L708.6 596.3"/>
<path d="M718.5 600.5L729.6 588.1M722.4 590.7L729.6 588.1L727.8 595.6"/>
<path d="M737.5 600.5L748.4 585.0M741.1 588.7L748.4 585.0L747.4 593.1"/>
<path d="M755.5 600.5L758.4 584.1M753.7 590.1L758.4 584.1L760.8 591.4"/>
<path d="M773.5 600.5L773.5 595.5M772.4 597.5L773.5 595.5L774.6 597.5"/>
<path d="M791.5 600.5L789.0 596.1M789.1 598.5L789.0 596.1L790.9 597.4"/>
<path d="M28.5 618.5L27.1 634.2M31.1 628.1L27.1 634.2L24.3 627.5"/>
<path d="M82.5 618.5L80.5 630.1M83.8 625.8L80.5 630.1L78.8 624.9"/>
<path d="M100.5 618.5L97.5 629.9M101.1 625.9L97.5 629.9L96.2 624.6"/>
<path d="M119.5 618.5L112.8 628.1M117.6 625.7L112.8 628.1L113.4 622.8"/>
<path d="M137.5 618.5L128.2 629.6M134.4 627.1L128.2 629.6L129.6 623.1"/>
<path d="M155.5 618.5L142.9 631.1M150.8 628.7L142.9 631.1L145.3 623.2"/>
<path d="M173.5 618.5L158.0 631.5M166.0 629.8L158.0 631.5L161.1 623.9"/>
<path d="M191.5 618.5L174.9 630.1M183.1 629.1L174.9 630.1L178.7 622.8"/>
<path d="M209.5 618.5L194.0 631.5M202.0 629.8L194.0 631.5L197.1 623.9"/>
<path d="M228.5 618.5L216.3 633.0M223.9 629.9L216.3 633.0L218.0 625.0"/>
<path d="M246.5 618.5L234.3 633.0M241.9 629.9L234.3 633.0L236.0 625.0"/>
<path d="M264.5 618.5L257.0 634.6M263.5 629.7L257.0 634.6L256.6 626.4"/>
<path d="M282.5 618.5L275.5 633.6M281.6 629.0L275.5 633.6L275.1 625.9"/>
<path d="M300.5 618.5L295.1 633.3M300.5 628.5L295.1 633.3L294.1 626.1"/>
<path d="M318.5 618.5L315.5 632.7M319.8 627.6L315.5 632.7L313.6 626.3"/>
<path d="M337.5 618.5L335.0 631.4M338.8 626.7L335.0 631.4L333.2 625.6"/>
<path d="M355.5 618.5L353.7 628.7M356.6 625.0L353.7 628.7L352.2 624.2"/>
<path d="M373.5 618.5L372.9 625.5M374.6 622.8L372.9 625.5L371.6 622.5"/>
<path d="M391.5 618.5L391.5 621.5M392.4 619.8L391.5 621.5L390.6 619.8"/>
<path d="M409.5 618.5L410.7 618.7"/>
<path d="M428.5 618.5L429.7 618.7"/>
<path d="M446.5 618.5L449.6 618.5M447.8 617.6L449.6 618.5L447.8 619.4"/>
<path d="M464.5 618.5L468.9 616.0M466.5 616.1L468.9 616.0L467.6 617.9"/>
<path d="M482.5 618.5L486.9 616.0M484.5 616.1L486.9 616.0L485.6 617.9"/>
<path d="M500.5 618.5L506.6 615.0M503.4 615.1L506.6 615.0L504.9 617.7"/>
<path d="M518.5 618.5L525.9 613.3M521.8 613.8L525.9 613.3L524.0 617.0"/>
<path d="M537.5 618.5L545.5 611.8M540.8 612.8L545.5 611.8L543.7 616.3"/>
<path d="M555.5 618.5L562.8 611.2M558.3 612.6L562.8 611.2L561.4 615.7"/>
<path d="M573.5 618.5L581.4 609.8M576.3 611.6L581.4 609.8L580.1 615.1"/>
<path d="M591.5 618.5L599.1 609.5M594.0 611.5L599.1 609.5L597.9 614.8"/>
<path d="M609.5 618.5L619.6 610.1M613.7 611.3L619.6 610.1L617.3 615.7"/>
<path d="M627.5 618.5L637.4 609.9M631.5 611.2L637.4 609.9L635.3 615.5"/>
<path d="M646.5 618.5L656.3 609.7M650.4 611.2L656.3 609.7L654.2 615.4"/>
<path d="M664.5 618.5L674.1 609.5M668.3 611.1L674.1 609.5L672.1 615.3"/>
<path d="M682.5 618.5L692.0 609.4M686.1 611.0L692.0 609.4L690.1 615.1"/>
<path d="M700.5 618.5L710.8 608.2M704.4 610.2L710.8 608.2L708.8 614.6"/>
<path d="M718.5 618.5L728.0 604.9M721.2 608.3L728.0 604.9L727.1 612.5"/>
<path d="M737.5 618.5L740.2 603.0M735.8 608.7L740.2 603.0L742.5 609.9"/>
<path d="M755.5 618.5L755.5 606.7M753.0 611.5L755.5 606.7L758.0 611.5"/>
<path d="M773.5 618.5L772.0 615.9M772.0 617.9L772.0 615.9L773.7 616.9"/>
<path d="M791.5 618.5L786.5 613.5M787.5 616.6L786.5 613.5L789.6 614.5"/>
<path d="M10.5 636.5L9.4 649.6M12.6 644.5L9.4 649.6L7.0 644.0"/>
<path d="M28.5 636.5L27.2 651.0M30.9 645.4L27.2 651.0L24.6 644.8"/>
<path d="M82.5 636.5L70.7 648.3M78.1 646.0L70.7 648.3L73.0 640.9"/>
<path d="M100.5 636.5L87.9 649.1M95.8 646.7L87.9 649.1L90.3 641.2"/>
<path d="M119.5 636.5L106.9 649.1M114.8 646.7L106.9 649.1L109.3 641.2"/>
<path d="M137.5 636.5L124.1 649.9M131.9 647.5L124.1 649.9L126.5 642.1"/>
<path d="M155.5 636.5L141.2 650.8M149.0 648.4L141.2 650.8L143.6 643.0"/>
<path d="M173.5 636.5L158.3 651.7M166.1 649.3L158.3 651.7L160.7 643.9"/>
<path d="M191.5 636.5L176.3 651.7M184.1 649.3L176.3 651.7L178.7 643.9"/>
<path d="M209.5 636.5L198.6 652.0M205.9 648.3L198.6 652.0L199.6 643.9"/>
<path d="M228.5 636.5L221.0 652.6M227.5 647.7L221.0 652.6L220.6 644.4"/>
<path d="M246.5 636.5L238.5 653.7M245.0 648.7L238.5 653.7L238.1 645.5"/>
<path d="M264.5 636.5L257.0 652.6M263.5 647.7L257.0 652.6L256.6 644.4"/>
<path d="M282.5 636.5L277.9 653.6M283.5 647.7L277.9 653.6L276.1 645.7"/>
<path d="M300.5 636.5L296.2 652.6M301.4 647.0L296.2 652.6L294.5 645.1"/>
<path d="M318.5 636.5L317.1 652.2M321.1 646.1L317.1 652.2L314.3 645.5"/>
<path d="M337.5 636.5L336.2 651.0M339.9 645.4L336.2 651.0L333.6 644.8"/>
<path d="M355.5 636.5L354.4 649.6M357.6 644.5L354.4 649.6L352.0 644.0"/>
<path d="M373.5 636.5L373.5 646.9M375.7 642.7L373.5 646.9L371.3 642.7"/>
<path d="M391.5 636.5L391.5 639.5M392.4 637.8L391.5 639.5L390.6 637.8"/>
<path d="M409.5 636.5L409.5 639.5M410.4 637.8L409.5 639.5L408.6 637.8"/>
<path d="M428.5 636.5L429.7 636.7"/>
<path d="M446.5 636.5L447.7 636.7"/>
<path d="M464.5 636.5L467.5 636.0M465.6 635.4L467.5 636.0L465.9 637.2"/>
<path d="M482.5 636.5L487.2 634.8M484.9 634.5L487.2 634.8L485.7 636.5"/>
<path d="M500.5 636.5L506.9 633.5M503.6 633.4L506.9 633.5L504.9 636.1"/>
<path d="M518.5 636.5L525.9 631.3M521.8 631.8L525.9 631.3L524.0 635.0"/>
<path d="M537.5 636.5L543.9 630.1M539.9 631.3L543.9 630.1L542.7 634.1"/>
<path d="M555.5 636.5L562.8 629.2M558.3 630.6L562.8 629.2L561.4 633.7"/>
<path d="M573.5 636.5L580.8 629.2M576.3 630.6L580.8 629.2L579.4 633.7"/>
<path d="M591.5 636.5L599.8 628.2M594.6 629.8L599.8 628.2L598.2 633.4"/>
<path d="M609.5 636.5L617.6 626.1M612.1 628.6L617.6 626.1L616.5 632.1"/>
<path d="M627.5 636.5L635.6 626.1M630.1 628.6L635.6 626.1L634.5 632.1"/>
<path d="M646.5 636.5L654.6 626.1M649.1 628.6L654.6 626.1L653.5 632.1"/>
<path d="M664.5 636.5L673.8 627.2M668.0 629.0L673.8 627.2L672.0 633.0"/>
<path d="M682.5 636.5L693.6 627.2M687.1 628.6L693.6 627.2L691.1 633.4"/>
<path d="M700.5 636.5L711.6 627.2M705.1 628.6L711.6 627.2L709.1 633.4"/>
<path d="M718.5 636.5L730.6 626.4M723.5 627.9L730.6 626.4L727.9 633.1"/>
<path d="M737.5 636.5L748.6 627.2M742.1 628.6L748.6 627.2L746.1 633.4"/>
<path d="M755.5 636.5L765.7 630.6M760.3 630.8L765.7 630.6L762.8 635.2"/>
<path d="M773.5 636.5L778.2 634.8M775.9 634.5L778.2 634.8L776.7 636.5"/>
<path d="M791.5 636.5L797.9 630.1M793.9 631.3L797.9 630.1L796.7 634.1"/>
<path d="M10.5 654.5L8.2 667.4M11.9 662.7L8.2 667.4L6.3 661.7"/>
<path d="M28.5 654.5L24.7 668.5M29.3 663.6L24.7 668.5L23.2 662.0"/>
<path d="M82.5 654.5L71.8 667.3M78.9 664.4L71.8 667.3L73.4 659.8"/>
<path d="M100.5 654.5L89.8 667.3M96.9 664.4L89.8 667.3L91.4 659.8"/>
<path d="M119.5 654.5L108.8 667.3M115.9 664.4L108.8 667.3L110.4 659.8"/>
<path d="M137.5 654.5L126.1 668.1M133.7 665.0L126.1 668.1L127.8 660.1"/>
<path d="M155.5 654.5L143.3 669.0M150.9 665.9L143.3 669.0L145.0 661.0"/>
<path d="M173.5 654.5L160.5 670.0M168.1 666.9L160.5 670.0L162.2 662.0"/>
<path d="M191.5 654.5L178.5 670.0M186.1 666.9L178.5 670.0L180.2 662.0"/>
<path d="M209.5 654.5L202.0 670.6M208.5 665.7L202.0 670.6L201.6 662.4"/>
<path d="M228.5 654.5L221.0 670.6M227.5 665.7L221.0 670.6L220.6 662.4"/>
<path d="M246.5 654.5L241.9 671.6M247.5 665.7L241.9 671.6L240.1 663.7"/>
<path d="M264.5 654.5L259.9 671.6M265.5 665.7L259.9 671.6L258.1 663.7"/>
<path d="M282.5 654.5L278.2 670.6M283.4 665.0L278.2 670.6L276.5 663.1"/>
<path d="M300.5 654.5L299.0 671.1M303.2 664.7L299.0 671.1L296.1 664.0"/>
<path d="M318.5 654.5L317.1 670.2M321.1 664.1L317.1 670.2L314.3 663.5"/>
<path d="M337.5 654.5L336.2 669.0M339.9 663.4L336.2 669.0L333.6 662.8"/>
<path d="M355.5 654.5L354.4 667.6M357.6 662.5L354.4 667.6L352.0 662.0"/>
<path d="M373.5 654.5L373.5 664.9M375.7 660.7L373.5 664.9L371.3 660.7"/>
<path d="M391.5 654.5L392.4 659.5M393.1 657.3L392.4 659.5L390.9 657.6"/>
<path d="M409.5 654.5L409.5 659.5M410.6 657.5L409.5 659.5L408.4 657.5"/>
<path d="M428.5 654.5L429.5 657.4M429.8 655.4L429.5 657.4L428.1 656.0"/>
<path d="M446.5 654.5L448.8 656.5M448.1 654.6L448.8 656.5L446.9 656.0"/>
<path d="M464.5 654.5L467.6 654.5M465.8 653.6L467.6 654.5L465.8 655.4"/>
<path d="M482.5 654.5L487.5 654.1M485.4 653.2L487.5 654.1L485.6 655.3"/>
<path d="M500.5 654.5L506.9 651.5M503.6 651.4L506.9 651.5L504.9 654.1"/>
<path d="M518.5 654.5L526.3 650.0M522.2 650.1L526.3 650.0L524.1 653.5"/>
<path d="M537.5 654.5L544.4 648.7M540.3 649.6L544.4 648.7L542.8 652.6"/>
<path d="M555.5 654.5L562.8 647.2M558.3 648.6L562.8 647.2L561.4 651.7"/>
<path d="M573.5 654.5L580.8 647.2M576.3 648.6L580.8 647.2L579.4 651.7"/>
<path d="M591.5 654.5L598.8 647.2M594.3 648.6L598.8 647.2L597.4 651.7"/>
<path d="M609.5 654.5L617.0 643.7M611.7 646.5L617.0 643.7L616.3 649.7"/>
<path d="M627.5 654.5L635.0 643.7M629.7 646.5L635.0 643.7L634.3 649.7"/>
<path d="M646.5 654.5L654.0 643.7M648.7 646.5L654.0 643.7L653.3 649.7"/>
<path d="M664.5 654.5L674.8 644.2M668.4 646.2L674.8 644.2L672.8 650.6"/>
<path d="M682.5 654.5L694.6 644.4M687.5 645.9L694.6 644.4L691.9 651.1"/>
<path d="M700.5 654.5L713.3 643.8M705.8 645.4L713.3 643.8L710.4 650.9"/>
<path d="M718.5 654.5L731.3 643.8M723.8 645.4L731.3 643.8L728.4 650.9"/>
<path d="M737.5 654.5L750.1 647.2M743.4 647.5L750.1 647.2L746.5 652.9"/>
<path d="M755.5 654.5L764.9 650.1M760.1 649.9L764.9 650.1L762.0 653.9"/>
<path d="M773.5 654.5L780.5 654.5M777.7 653.0L780.5 654.5L777.7 656.0"/>
<path d="M791.5 654.5L797.6 651.0M794.4 651.1L797.6 651.0L795.9 653.7"/>
<path d="M10.5 673.5L6.7 687.5M11.3 682.6L6.7 687.5L5.2 681.0"/>
<path d="M28.5 673.5L24.4 688.7M29.4 683.4L24.4 688.7L22.8 681.7"/>
<path d="M82.5 673.5L75.5 688.6M81.6 684.0L75.5 688.6L75.1 680.9"/>
<path d="M100.5 673.5L93.5 688.6M99.6 684.0L93.5 688.6L93.1 680.9"/>
<path d="M119.5 673.5L112.5 688.6M118.6 684.0L112.5 688.6L112.1 680.9"/>
<path d="M137.5 673.5L130.5 688.6M136.6 684.0L130.5 688.6L130.1 680.9"/>
<path d="M155.5 673.5L148.0 689.6M154.5 684.7L148.0 689.6L147.6 681.4"/>
<path d="M173.5 673.5L165.5 690.7M172.0 685.7L165.5 690.7L165.1 682.5"/>
<path d="M191.5 673.5L183.5 690.7M190.0 685.7L183.5 690.7L183.1 682.5"/>
<path d="M209.5 673.5L204.9 690.6M210.5 684.7L204.9 690.6L203.1 682.7"/>
<path d="M228.5 673.5L224.4 690.8M229.8 684.6L224.4 690.8L222.3 682.9"/>
<path d="M246.5 673.5L242.9 690.9M248.1 684.6L242.9 690.9L240.6 683.0"/>
<path d="M264.5 673.5L261.4 691.0M266.4 684.5L261.4 691.0L258.9 683.2"/>
<path d="M282.5 673.5L280.6 690.0M285.0 683.7L280.6 690.0L277.8 682.9"/>
<path d="M300.5 673.5L299.6 690.1M303.6 683.6L299.6 690.1L296.4 683.2"/>
<path d="M318.5 673.5L317.9 689.2M321.5 683.0L317.9 689.2L314.7 682.7"/>
<path d="M337.5 673.5L337.1 688.0M340.4 682.2L337.1 688.0L334.1 682.0"/>
<path d="M355.5 673.5L355.3 686.6M358.2 681.3L355.3 686.6L352.6 681.3"/>
<path d="M373.5 673.5L373.5 685.3M376.0 680.5L373.5 685.3L371.0 680.5"/>
<path d="M391.5 673.5L392.7 680.4M393.7 677.3L392.7 680.4L390.7 677.9"/>
<path d="M409.5 673.5L409.5 680.5M411.0 677.7L409.5 680.5L408.0 677.7"/>
<path d="M428.5 673.5L430.2 678.2M430.5 675.9L430.2 678.2L428.5 676.7"/>
<path d="M446.5 673.5L449.1 675.0M448.1 673.3L449.1 675.0L447.1 675.0"/>
<path d="M464.5 673.5L469.5 674.4M467.6 672.9L469.5 674.4L467.3 675.1"/>
<path d="M482.5 673.5L487.5 673.5M485.5 672.4L487.5 673.5L485.5 674.6"/>
<path d="M500.5 673.5L507.4 672.3M504.3 671.3L507.4 672.3L504.9 674.3"/>
<path d="M518.5 673.5L527.0 670.4M522.9 669.8L527.0 670.4L524.2 673.5"/>
<path d="M537.5 673.5L545.3 669.0M541.2 669.1L545.3 669.0L543.1 672.5"/>
<path d="M555.5 673.5L562.9 668.3M558.8 668.8L562.9 668.3L561.0 672.0"/>
<path d="M573.5 673.5L581.5 666.8M576.8 667.8L581.5 666.8L579.7 671.3"/>
<path d="M591.5 673.5L598.8 666.2M594.3 667.6L598.8 666.2L597.4 670.7"/>
<path d="M609.5 673.5L616.2 663.9M611.4 666.3L616.2 663.9L615.6 669.2"/>
<path d="M627.5 673.5L634.2 663.9M629.4 666.3L634.2 663.9L633.6 669.2"/>
<path d="M646.5 673.5L654.0 662.7M648.7 665.5L654.0 662.7L653.3 668.7"/>
<path d="M664.5 673.5L673.5 660.6M667.1 663.9L673.5 660.6L672.7 667.8"/>
<path d="M682.5 673.5L691.4 658.1M684.5 662.5L691.4 658.1L691.1 666.3"/>
<path d="M700.5 673.5L708.0 657.4M701.5 662.3L708.0 657.4L708.4 665.6"/>
<path d="M718.5 673.5L723.5 659.9M718.5 664.3L723.5 659.9L724.4 666.5"/>
<path d="M737.5 673.5L737.5 666.5M736.0 669.3L737.5 666.5L739.0 669.3"/>
<path d="M755.5 673.5L755.5 668.5M754.4 670.5L755.5 668.5L756.6 670.5"/>
<path d="M773.5 673.5L773.5 670.5M772.6 672.2L773.5 670.5L774.4 672.2"/>
<path d="M791.5 673.5L796.5 668.5M793.4 669.5L796.5 668.5L795.5 671.6"/>
<path d="M10.5 691.5L7.8 707.0M12.2 701.3L7.8 707.0L5.5 700.1"/>
<path d="M28.5 691.5L25.8 707.0M30.2 701.3L25.8 707.0L23.5 700.1"/>
<path d="M82.5 691.5L79.6 707.9M84.3 701.9L79.6 707.9L77.2 700.6"/>
<path d="M100.5 691.5L97.4 709.0M102.4 702.5L97.4 709.0L94.9 701.2"/>
<path d="M119.5 691.5L116.4 709.0M121.4 702.5L116.4 709.0L113.9 701.2"/>
<path d="M137.5 691.5L134.4 709.0M139.4 702.5L134.4 709.0L131.9 701.2"/>
<path d="M155.5 691.5L152.4 709.0M157.4 702.5L152.4 709.0L149.9 701.2"/>
<path d="M173.5 691.5L170.4 709.0M175.4 702.5L170.4 709.0L167.9 701.2"/>
<path d="M191.5 691.5L188.4 709.0M193.4 702.5L188.4 709.0L185.9 701.2"/>
<path d="M209.5 691.5L208.0 708.1M212.2 701.7L208.0 708.1L205.1 701.0"/>
<path d="M228.5 691.5L227.2 708.1M231.3 701.6L227.2 708.1L224.2 701.1"/>
<path d="M246.5 691.5L245.3 709.2M249.6 702.3L245.3 709.2L242.0 701.8"/>
<path d="M264.5 691.5L263.5 709.2M267.7 702.2L263.5 709.2L260.1 701.8"/>
<path d="M282.5 691.5L281.7 708.1M285.6 701.5L281.7 708.1L278.4 701.2"/>
<path d="M300.5 691.5L299.9 707.2M303.5 701.0L299.9 707.2L296.7 700.7"/>
<path d="M318.5 691.5L318.0 707.3M321.6 701.0L318.0 707.3L314.8 700.8"/>
<path d="M337.5 691.5L337.2 706.0M340.5 700.2L337.2 706.0L334.2 700.1"/>
<path d="M355.5 691.5L355.4 704.6M358.3 699.3L355.4 704.6L352.6 699.3"/>
<path d="M373.5 691.5L373.5 703.3M376.0 698.5L373.5 703.3L371.0 698.5"/>
<path d="M391.5 691.5L391.8 700.5M393.6 696.8L391.8 700.5L389.7 696.9"/>
<path d="M409.5 691.5L410.3 700.5M411.9 696.7L410.3 700.5L408.0 697.0"/>
<path d="M428.5 691.5L430.9 698.1M431.3 694.9L430.9 698.1L428.5 695.9"/>
<path d="M446.5 691.5L450.1 695.1M449.4 692.8L450.1 695.1L447.8 694.4"/>
<path d="M464.5 691.5L468.9 694.0M467.6 692.1L468.9 694.0L466.5 693.9"/>
<path d="M482.5 691.5L487.5 692.4M485.6 690.9L487.5 692.4L485.3 693.1"/>
<path d="M500.5 691.5L507.5 691.5M504.7 690.0L507.5 691.5L504.7 693.0"/>
<path d="M518.5 691.5L525.4 690.3M522.3 689.3L525.4 690.3L522.9 692.3"/>
<path d="M537.5 691.5L546.0 688.4M541.9 687.8L546.0 688.4L543.2 691.5"/>
<path d="M555.5 691.5L563.3 687.0M559.2 687.1L563.3 687.0L561.1 690.5"/>
<path d="M573.5 691.5L581.5 684.8M576.8 685.8L581.5 684.8L579.7 689.3"/>
<path d="M591.5 691.5L599.5 684.8M594.8 685.8L599.5 684.8L597.7 689.3"/>
<path d="M609.5 691.5L616.2 681.9M611.4 684.3L616.2 681.9L615.6 687.2"/>
<path d="M627.5 691.5L634.2 681.9M629.4 684.3L634.2 681.9L633.6 687.2"/>
<path d="M646.5 691.5L654.0 680.7M648.7 683.5L654.0 680.7L653.3 686.7"/>
<path d="M664.5 691.5L671.2 677.2M665.4 681.6L671.2 677.2L671.5 684.5"/>
<path d="M682.5 691.5L685.8 672.8M680.7 679.3L685.8 672.8L688.3 680.6"/>
<path d="M700.5 691.5L700.5 677.0M697.4 682.9L700.5 677.0L703.6 682.9"/>
<path d="M718.5 691.5L710.5 684.8M712.3 689.3L710.5 684.8L715.2 685.8"/>
<path d="M737.5 691.5L729.7 687.0M731.9 690.5L729.7 687.0L733.8 687.1"/>
<path d="M755.5 691.5L749.7 684.6M750.6 688.7L749.7 684.6L753.6 686.2"/>
<path d="M773.5 691.5L770.0 685.4M770.1 688.6L770.0 685.4L772.7 687.1"/>
<path d="M791.5 691.5L786.5 686.5M787.5 689.6L786.5 686.5L789.6 687.5"/>
<path d="M10.5 709.5L9.9 727.2M14.0 720.2L9.9 727.2L6.3 719.9"/>
<path d="M28.5 709.5L27.9 727.2M32.0 720.2L27.9 727.2L24.3 719.9"/>
<path d="M82.5 709.5L82.0 728.4M86.0 721.3L82.0 728.4L78.3 721.1"/>
<path d="M100.5 709.5L100.0 728.4M104.0 721.3L100.0 728.4L96.3 721.1"/>
<path d="M119.5 709.5L119.0 728.4M123.1 721.3L119.0 728.4L115.4 721.1"/>
<path d="M137.5 709.5L137.1 728.4M141.1 721.3L137.1 728.4L133.4 721.1"/>
<path d="M155.5 709.5L155.1 728.4M159.1 721.3L155.1 728.4L151.4 721.1"/>
<path d="M173.5 709.5L173.1 728.4M177.1 721.3L173.1 728.4L169.4 721.1"/>
<path d="M191.5 709.5L191.2 728.4M195.1 721.3L191.2 728.4L187.4 721.1"/>
<path d="M209.5 709.5L209.2 728.4M213.2 721.3L209.2 728.4L205.5 721.1"/>
<path d="M228.5 709.5L228.2 728.4M232.2 721.3L228.2 728.4L224.5 721.2"/>
<path d="M246.5 709.5L246.3 727.3M250.2 720.1L246.3 727.3L242.5 720.0"/>
<path d="M264.5 709.5L264.3 727.3M268.2 720.1L264.3 727.3L260.5 720.0"/>
<path d="M282.5 709.5L282.3 726.1M286.0 719.4L282.3 726.1L278.8 719.3"/>
<path d="M300.5 709.5L300.4 725.3M303.8 718.9L300.4 725.3L297.0 718.8"/>
<path d="M318.5 709.5L318.4 724.0M321.6 718.1L318.4 724.0L315.3 718.1"/>
<path d="M337.5 709.5L337.4 724.0M340.6 718.1L337.4 724.0L334.3 718.1"/>
<path d="M355.5 709.5L355.5 722.6M358.3 717.3L355.5 722.6L352.6 717.3"/>
<path d="M373.5 709.5L373.5 721.3M376.0 716.5L373.5 721.3L370.9 716.5"/>
<path d="M391.5 709.5L391.5 718.5M393.4 714.8L391.5 718.5L389.6 714.8"/>
<path d="M409.5 709.5L410.3 718.5M411.9 714.7L410.3 718.5L408.0 715.0"/>
<path d="M428.5 709.5L431.6 718.0M432.2 713.9L431.6 718.0L428.5 715.2"/>
<path d="M446.5 709.5L451.0 714.9M450.3 711.7L451.0 714.9L448.0 713.7"/>
<path d="M464.5 709.5L469.9 714.0M468.7 711.0L469.9 714.0L466.7 713.3"/>
<path d="M482.5 709.5L488.9 712.5M486.9 709.9L488.9 712.5L485.6 712.6"/>
<path d="M500.5 709.5L507.5 710.1M504.8 708.4L507.5 710.1L504.5 711.4"/>
<path d="M518.5 709.5L525.5 708.9M522.5 707.6L525.5 708.9L522.8 710.6"/>
<path d="M537.5 709.5L547.3 705.9M542.5 705.3L547.3 705.9L544.1 709.5"/>
<path d="M555.5 709.5L564.0 703.5M559.3 704.1L564.0 703.5L561.8 707.8"/>
<path d="M573.5 709.5L581.5 702.8M576.8 703.8L581.5 702.8L579.7 707.3"/>
<path d="M591.5 709.5L600.5 701.9M595.2 703.1L600.5 701.9L598.5 707.0"/>
<path d="M609.5 709.5L616.2 699.9M611.4 702.3L616.2 699.9L615.6 705.2"/>
<path d="M627.5 709.5L635.0 698.7M629.7 701.5L635.0 698.7L634.3 704.7"/>
<path d="M646.5 709.5L655.5 696.6M649.1 699.9L655.5 696.6L654.7 703.8"/>
<path d="M664.5 709.5L670.2 693.9M664.5 699.0L670.2 693.9L671.3 701.4"/>
<path d="M682.5 709.5L682.5 693.7M679.1 700.1L682.5 693.7L685.9 700.1"/>
<path d="M700.5 709.5L692.1 699.4M693.3 705.3L692.1 699.4L697.7 701.7"/>
<path d="M718.5 709.5L708.4 701.1M710.7 706.7L708.4 701.1L714.3 702.3"/>
<path d="M737.5 709.5L727.2 699.2M729.2 705.6L727.2 699.2L733.6 701.2"/>
<path d="M755.5 709.5L745.4 697.4M746.9 704.5L745.4 697.4L752.1 700.1"/>
<path d="M773.5 709.5L765.2 697.6M766.0 704.2L765.2 697.6L771.1 700.6"/>
<path d="M791.5 709.5L784.9 698.1M785.1 704.2L784.9 698.1L790.1 701.3"/>
<path d="M10.5 727.5L10.5 747.7M14.3 740.5L10.5 747.7L6.7 740.5"/>
<path d="M28.5 727.5L28.5 747.7M32.3 740.5L28.5 747.7L24.7 740.5"/>
<path d="M82.5 727.5L82.5 747.7M86.3 740.5L82.5 747.7L78.7 740.5"/>
<path d="M100.5 727.5L100.5 749.0M104.3 741.8L100.5 749.0L96.7 741.8"/>
<path d="M119.5 727.5L119.5 749.0M123.3 741.8L119.5 749.0L115.7 741.8"/>
<path d="M137.5 727.5L137.5 747.7M141.3 740.5L137.5 747.7L133.7 740.5"/>
<path d="M155.5 727.5L155.5 747.7M159.3 740.5L155.5 747.7L151.7 740.5"/>
<path d="M173.5 727.5L173.5 747.7M177.3 740.5L173.5 747.7L169.7 740.5"/>
<path d="M191.5 727.5L191.5 747.7M195.3 740.5L191.5 747.7L187.7 740.5"/>
<path d="M209.5 727.5L209.5 747.7M213.3 740.5L209.5 747.7L205.7 740.5"/>
<path d="M228.5 727.5L228.5 746.5M232.3 739.2L228.5 746.5L224.7 739.2"/>
<path d="M246.5 727.5L246.5 746.5M250.3 739.2L246.5 746.5L242.7 739.2"/>
<path d="M264.5 727.5L264.5 745.3M268.3 738.0L264.5 745.3L260.7 738.0"/>
<path d="M282.5 727.5L282.5 744.1M286.1 737.4L282.5 744.1L278.9 737.4"/>
<path d="M300.5 727.5L300.5 743.3M303.9 736.9L300.5 743.3L297.1 736.9"/>
<path d="M318.5 727.5L318.5 742.0M321.6 736.1L318.5 742.0L315.4 736.1"/>
<path d="M337.5 727.5L337.5 742.0M340.6 736.1L337.5 742.0L334.4 736.1"/>
<path d="M355.5 727.5L355.5 740.6M358.3 735.3L355.5 740.6L352.7 735.3"/>
<path d="M373.5 727.5L373.5 740.6M376.3 735.3L373.5 740.6L370.7 735.3"/>
<path d="M391.5 727.5L391.5 737.9M393.7 733.7L391.5 737.9L389.3 733.7"/>
<path d="M409.5 727.5L409.9 737.9M412.0 733.6L409.9 737.9L407.5 733.7"/>
<path d="M428.5 727.5L431.6 736.0M432.2 731.9L431.6 736.0L428.5 733.2"/>
<path d="M446.5 727.5L452.3 734.4M451.4 730.3L452.3 734.4L448.4 732.8"/>
<path d="M464.5 727.5L469.9 732.0M468.7 729.0L469.9 732.0L466.7 731.3"/>
<path d="M482.5 727.5L488.9 730.5M486.9 727.9L488.9 730.5L485.6 730.6"/>
<path d="M500.5 727.5L507.5 728.1M504.8 726.4L507.5 728.1L504.5 729.4"/>
<path d="M518.5 727.5L525.5 727.5M522.7 726.0L525.5 727.5L522.7 729.0"/>
<path d="M537.5 727.5L546.4 725.9M542.4 724.7L546.4 725.9L543.1 728.5"/>
<path d="M555.5 727.5L564.5 722.3M559.7 722.5L564.5 722.3L562.0 726.4"/>
<path d="M573.5 727.5L582.0 721.5M577.3 722.1L582.0 721.5L579.8 725.8"/>
<path d="M591.5 727.5L599.5 720.8M594.8 721.8L599.5 720.8L597.7 725.3"/>
<path d="M609.5 727.5L616.2 719.5M611.7 721.3L616.2 719.5L615.2 724.2"/>
<path d="M627.5 727.5L635.1 718.5M630.0 720.5L635.1 718.5L633.9 723.8"/>
<path d="M646.5 727.5L653.8 714.9M648.1 718.5L653.8 714.9L653.5 721.6"/>
<path d="M664.5 727.5L668.6 712.3M663.6 717.6L668.6 712.3L670.2 719.3"/>
<path d="M682.5 727.5L682.5 714.4M679.7 719.7L682.5 714.4L685.3 719.7"/>
<path d="M700.5 727.5L693.8 717.9M694.4 723.2L693.8 717.9L698.6 720.3"/>
<path d="M718.5 727.5L710.1 717.4M711.3 723.3L710.1 717.4L715.7 719.7"/>
<path d="M737.5 727.5L729.2 715.6M730.0 722.2L729.2 715.6L735.1 718.6"/>
<path d="M755.5 727.5L748.2 714.9M748.5 721.6L748.2 714.9L753.9 718.5"/>
<path d="M773.5 727.5L767.4 714.3M767.0 721.0L767.4 714.3L772.7 718.4"/>
<path d="M791.5 727.5L785.9 715.6M785.6 721.6L785.9 715.6L790.8 719.2"/>
<path d="M10.5 745.5L10.5 767.0M14.3 759.8L10.5 767.0L6.7 759.8"/>
<path d="M28.5 745.5L28.5 767.0M32.3 759.8L28.5 767.0L24.7 759.8"/>
<path d="M82.5 745.5L82.5 767.0M86.3 759.8L82.5 767.0L78.7 759.8"/>
<path d="M100.5 745.5L100.5 768.5M104.3 761.3L100.5 768.5L96.7 761.3"/>
<path d="M119.5 745.5L119.5 768.5M123.3 761.3L119.5 768.5L115.7 761.3"/>
<path d="M137.5 745.5L137.5 767.0M141.3 759.8L137.5 767.0L133.7 759.8"/>
<path d="M155.5 745.5L155.5 767.0M159.3 759.8L155.5 767.0L151.7 759.8"/>
<path d="M173.5 745.5L173.5 767.0M177.3 759.8L173.5 767.0L169.7 759.8"/>
<path d="M191.5 745.5L191.5 767.0M195.3 759.8L191.5 767.0L187.7 759.8"/>
<path d="M209.5 745.5L209.5 765.7M213.3 758.5L209.5 765.7L205.7 758.5"/>
<path d="M228.5 745.5L228.5 765.7M232.3 758.5L228.5 765.7L224.7 758.5"/>
<path d="M246.5 745.5L246.5 764.5M250.3 757.2L246.5 764.5L242.7 757.2"/>
<path d="M264.5 745.5L264.5 763.3M268.3 756.0L264.5 763.3L260.7 756.0"/>
<path d="M282.5 745.5L282.5 762.1M286.1 755.4L282.5 762.1L278.9 755.4"/>
<path d="M300.5 745.5L300.5 761.3M303.9 754.9L300.5 761.3L297.1 754.9"/>
<path d="M318.5 745.5L318.5 760.0M321.6 754.1L318.5 760.0L315.4 754.1"/>
<path d="M337.5 745.5L337.5 760.0M340.6 754.1L337.5 760.0L334.4 754.1"/>
<path d="M355.5 745.5L355.5 758.6M358.3 753.3L355.5 758.6L352.7 753.3"/>
<path d="M373.5 745.5L373.5 758.6M376.3 753.3L373.5 758.6L370.7 753.3"/>
<path d="M391.5 745.5L391.5 755.9M393.7 751.7L391.5 755.9L389.3 751.7"/>
<path d="M409.5 745.5L409.9 755.9M412.0 751.6L409.9 755.9L407.5 751.7"/>
<path d="M428.5 745.5L432.1 755.3M432.7 750.5L432.1 755.3L428.5 752.1"/>
<path d="M446.5 745.5L451.7 752.9M451.2 748.8L451.7 752.9L448.0 751.0"/>
<path d="M464.5 745.5L471.4 751.3M469.8 747.4L471.4 751.3L467.3 750.4"/>
<path d="M482.5 745.5L488.6 749.0M486.9 746.3L488.6 749.0L485.4 748.9"/>
<path d="M500.5 745.5L507.4 746.7M504.9 744.7L507.4 746.7L504.3 747.7"/>
<path d="M518.5 745.5L525.5 745.5M522.7 744.0L525.5 745.5L522.7 747.0"/>
<path d="M537.5 745.5L546.5 744.7M542.7 743.1L546.5 744.7L543.0 747.0"/>
<path d="M555.5 745.5L564.0 742.4M559.9 741.8L564.0 742.4L561.2 745.5"/>
<path d="M573.5 745.5L582.9 741.1M578.1 740.9L582.9 741.1L580.0 744.9"/>
<path d="M591.5 745.5L600.0 739.5M595.3 740.1L600.0 739.5L597.8 743.8"/>
<path d="M609.5 745.5L616.4 739.7M612.3 740.6L616.4 739.7L614.8 743.6"/>
<path d="M627.5 745.5L635.5 738.8M630.8 739.8L635.5 738.8L633.7 743.3"/>
<path d="M646.5 745.5L652.4 735.3M647.8 738.2L652.4 735.3L652.2 740.7"/>
<path d="M664.5 745.5L666.8 732.6M663.1 737.3L666.8 732.6L668.7 738.3"/>
<path d="M682.5 745.5L678.5 734.4M677.7 739.8L678.5 734.4L682.5 738.1"/>
<path d="M700.5 745.5L692.9 736.5M694.1 741.8L692.9 736.5L698.0 738.5"/>
<path d="M718.5 745.5L710.1 735.4M711.3 741.3L710.1 735.4L715.7 737.7"/>
<path d="M737.5 745.5L730.9 734.1M731.1 740.2L730.9 734.1L736.1 737.3"/>
<path d="M755.5 745.5L749.9 733.6M749.6 739.6L749.9 733.6L754.8 737.2"/>
<path d="M773.5 745.5L769.0 733.1M768.2 739.1L769.0 733.1L773.5 737.2"/>
<path d="M791.5 745.5L787.0 733.1M786.2 739.1L787.0 733.1L791.5 737.2"/>
<path d="M10.5 764.5L10.5 787.6M14.3 780.4L10.5 787.6L6.7 780.4"/>
<path d="M28.5 764.5L28.5 787.5M32.3 780.3L28.5 787.5L24.7 780.3"/>
<path d="M82.5 764.5L82.5 786.0M86.3 778.8L82.5 786.0L78.7 778.8"/>
<path d="M100.5 764.5L100.5 786.0M104.3 778.8L100.5 786.0L96.7 778.8"/>
<path d="M119.5 764.5L119.5 786.0M123.3 778.8L119.5 786.0L115.7 778.8"/>
<path d="M137.5 764.5L137.5 786.0M141.3 778.8L137.5 786.0L133.7 778.8"/>
<path d="M155.5 764.5L155.5 786.0M159.3 778.8L155.5 786.0L151.7 778.8"/>
<path d="M173.5 764.5L173.5 786.0M177.3 778.8L173.5 786.0L169.7 778.8"/>
<path d="M191.5 764.5L191.5 784.7M195.3 777.5L191.5 784.7L187.7 777.5"/>
<path d="M209.5 764.5L209.5 784.7M213.3 777.5L209.5 784.7L205.7 777.5"/>
<path d="M228.5 764.5L228.5 784.7M232.3 777.5L228.5 784.7L224.7 777.5"/>
<path d="M246.5 764.5L246.5 783.5M250.3 776.2L246.5 783.5L242.7 776.2"/>
<path d="M264.5 764.5L264.5 782.3M268.3 775.0L264.5 782.3L260.7 775.0"/>
<path d="M282.5 764.5L282.5 781.1M286.1 774.4L282.5 781.1L278.9 774.4"/>
<path d="M300.5 764.5L300.5 780.3M303.9 773.9L300.5 780.3L297.1 773.9"/>
<path d="M318.5 764.5L318.5 779.0M321.6 773.1L318.5 779.0L315.4 773.1"/>
<path d="M337.5 764.5L337.5 779.0M340.6 773.1L337.5 779.0L334.4 773.1"/>
<path d="M355.5 764.5L355.5 777.6M358.3 772.3L355.5 777.6L352.7 772.3"/>
<path d="M373.5 764.5L373.5 777.6M376.3 772.3L373.5 777.6L370.7 772.3"/>
<path d="M391.5 764.5L391.5 774.9M393.7 770.7L391.5 774.9L389.3 770.7"/>
<path d="M409.5 764.5L409.9 776.3M412.3 771.4L409.9 776.3L407.2 771.6"/>
<path d="M428.5 764.5L432.1 774.3M432.7 769.5L432.1 774.3L428.5 771.1"/>
<path d="M446.5 764.5L452.5 773.0M451.9 768.3L452.5 773.0L448.2 770.8"/>
<path d="M464.5 764.5L471.4 770.3M469.8 766.4L471.4 770.3L467.3 769.4"/>
<path d="M482.5 764.5L490.3 769.0M488.1 765.5L490.3 769.0L486.2 768.9"/>
<path d="M500.5 764.5L507.4 765.7M504.9 763.7L507.4 765.7L504.3 766.7"/>
<path d="M518.5 764.5L525.5 764.5M522.7 763.0L525.5 764.5L522.7 766.0"/>
<path d="M537.5 764.5L546.5 763.7M542.7 762.1L546.5 763.7L543.0 766.0"/>
<path d="M555.5 764.5L564.0 761.4M559.9 760.8L564.0 761.4L561.2 764.5"/>
<path d="M573.5 764.5L581.7 760.7M577.5 760.5L581.7 760.7L579.2 764.0"/>
<path d="M591.5 764.5L600.0 758.5M595.3 759.1L600.0 758.5L597.8 762.8"/>
<path d="M609.5 764.5L615.6 761.0M612.4 761.1L615.6 761.0L613.9 763.7"/>
<path d="M627.5 764.5L635.3 760.0M631.2 760.1L635.3 760.0L633.1 763.5"/>
<path d="M646.5 764.5L650.1 754.7M646.5 757.9L650.1 754.7L650.7 759.5"/>
<path d="M664.5 764.5L664.5 752.7M662.0 757.5L664.5 752.7L667.0 757.5"/>
<path d="M682.5 764.5L677.3 755.5M677.5 760.3L677.3 755.5L681.4 758.0"/>
<path d="M700.5 764.5L692.9 755.5M694.1 760.8L692.9 755.5L698.0 757.5"/>
<path d="M718.5 764.5L711.8 754.9M712.4 760.2L711.8 754.9L716.6 757.3"/>
<path d="M737.5 764.5L730.9 753.1M731.1 759.2L730.9 753.1L736.1 756.3"/>
<path d="M755.5 764.5L749.9 752.6M749.6 758.6L749.9 752.6L754.8 756.2"/>
<path d="M773.5 764.5L768.5 752.4M767.9 758.4L768.5 752.4L773.1 756.2"/>
<path d="M791.5 764.5L787.0 752.1M786.2 758.1L787.0 752.1L791.5 756.2"/>
</g>
<g stroke="#808080" stroke-width="1" shape-rendering="crispEdges">
<line x1="9.5" y1="28" x2="9.5" y2="772"/>
<line x1="81.5" y1="28" x2="81.5" y2="772"/>
<line x1="154.5" y1="28" x2="154.5" y2="772"/>
<line x1="227.5" y1="28" x2="227.5" y2="772"/>
<line x1="299.5" y1="28" x2="299.5" y2="772"/>
<line x1="372.5" y1="28" x2="372.5" y2="772"/>
<line x1="445.5" y1="28" x2="445.5" y2="772"/>
<line x1="517.5" y1="28" x2="517.5" y2="772"/>
<line x1="590.5" y1="28" x2="590.5" y2="772"/>
<line x1="663.5" y1="28" x2="663.5" y2="772"/>
<line x1="736.5" y1="28" x2="736.5" y2="772"/>
<line x1="1" y1="36.5" x2="800" y2="36.5"/>
<line x1="1" y1="109.5" x2="800" y2="109.5"/>
<line x1="1" y1="181.5" x2="800" y2="181.5"/>
<line x1="1" y1="254.5" x2="800" y2="254.5"/>
<line x1="1" y1="327.5" x2="800" y2="327.5"/>
<line x1="1" y1="399.5" x2="800" y2="399.5"/>
<line x1="1" y1="472.5" x2="800" y2="472.5"/>
<line x1="1" y1="545.5" x2="800" y2="545.5"/>
<line x1="1" y1="618.5" x2="800" y2="618.5"/>
<line x1="1" y1="690.5" x2="800" y2="690.5"/>
<line x1="1" y1="763.5" x2="800" y2="763.5"/>
</g>
<defs><linearGradient id="cb" x1="0" y1="0" x2="0" y2="1">
<stop offset="0.0000" stop-color="rgb(195,0,125)"/>
<stop offset="0.1620" stop-color="rgb(255,0,0)"/>
<stop offset="0.4678" stop-color="rgb(255,255,0)"/>
<stop offset="0.6000" stop-color="rgb(0,255,0)"/>
<stop offset="0.7405" stop-color="rgb(0,255,255)"/>
<stop offset="1.0000" stop-color="rgb(0,0,255)"/>
</linearGradient></defs>
<g shape-rendering="crispEdges">
<rect x="32" y="160" width="49" height="608" fill="#fff"/>
<rect x="32.5" y="160.5" width="48" height="607" fill="none" stroke="#000" stroke-width="1"/>
<rect x="34" y="162" width="45" height="605" fill="url(#cb)"/>
</g>
<g font-size="15.5px" fill="#222" font-family="Liberation Sans, sans-serif">
<text x="86.5" y="165.0">30</text>
<text x="86.5" y="317.0">22</text>
<text x="86.5" y="468.5">15</text>
<text x="86.5" y="620.5">8</text>
<text x="86.5" y="772.0">0</text>
<text x="35" y="148" font-size="17px" fill="#333" textLength="43" lengthAdjust="spacingAndGlyphs">[m/s]</text>
</g>
<g stroke="#000" stroke-width="1" shape-rendering="crispEdges" fill="none">
<line x1="0" y1="27.5" x2="800" y2="27.5"/>
<line x1="0.5" y1="27" x2="0.5" y2="773"/>
<path d="M1.5 28V32M1.5 773V769M9.5 28V45M9.5 773V756M16.5 28V32M16.5 773V769M23.5 28V32M23.5 773V769M30.5 28V32M30.5 773V769M38.5 28V32M38.5 773V769M45.5 28V37M45.5 773V764M52.5 28V32M52.5 773V769M59.5 28V32M59.5 773V769M67.5 28V32M67.5 773V769M74.5 28V32M74.5 773V769M81.5 28V45M81.5 773V756M88.5 28V32M88.5 773V769M96.5 28V32M96.5 773V769M103.5 28V32M103.5 773V769M110.5 28V32M110.5 773V769M118.5 28V37M118.5 773V764M125.5 28V32M125.5 773V769M132.5 28V32M132.5 773V769M139.5 28V32M139.5 773V769M147.5 28V32M147.5 773V769M154.5 28V45M154.5 773V756M161.5 28V32M161.5 773V769M168.5 28V32M168.5 773V769M176.5 28V32M176.5 773V769M183.5 28V32M183.5 773V769M190.5 28V37M190.5 773V764M198.5 28V32M198.5 773V769M205.5 28V32M205.5 773V769M212.5 28V32M212.5 773V769M219.5 28V32M219.5 773V769M227.5 28V45M227.5 773V756M234.5 28V32M234.5 773V769M241.5 28V32M241.5 773V769M248.5 28V32M248.5 773V769M256.5 28V32M256.5 773V769M263.5 28V37M263.5 773V764M270.5 28V32M270.5 773V769M277.5 28V32M277.5 773V769M285.5 28V32M285.5 773V769M292.5 28V32M292.5 773V769M299.5 28V45M299.5 773V756M307.5 28V32M307.5 773V769M314.5 28V32M314.5 773V769M321.5 28V32M321.5 773V769M328.5 28V32M328.5 773V769M336.5 28V37M336.5 773V764M343.5 28V32M343.5 773V769M350.5 28V32M350.5 773V769M357.5 28V32M357.5 773V769M365.5 28V32M365.5 773V769M372.5 28V45M372.5 773V756M379.5 28V32M379.5 773V769M387.5 28V32M387.5 773V769M394.5 28V32M394.5 773V769M401.5 28V32M401.5 773V769M408.5 28V37M408.5 773V764M416.5 28V32M416.5 773V769M423.5 28V32M423.5 773V769M430.5 28V32M430.5 773V769M437.5 28V32M437.5 773V769M445.5 28V45M445.5 773V756M452.5 28V32M452.5 773V769M459.5 28V32M459.5 773V769M467.5 28V32M467.5 773V769M474.5 28V32M474.5 773V769M481.5 28V37M481.5 773V764M488.5 28V32M488.5 773V769M496.5 28V32M496.5 773V769M503.5 28V32M503.5 773V769M510.5 28V32M510.5 773V769M517.5 28V45M517.5 773V756M525.5 28V32M525.5 773V769M532.5 28V32M532.5 773V769M539.5 28V32M539.5 773V769M546.5 28V32M546.5 773V769M554.5 28V37M554.5 773V764M561.5 28V32M561.5 773V769M568.5 28V32M568.5 773V769M576.5 28V32M576.5 773V769M583.5 28V32M583.5 773V769M590.5 28V45M590.5 773V756M597.5 28V32M597.5 773V769M605.5 28V32M605.5 773V769M612.5 28V32M612.5 773V769M619.5 28V32M619.5 773V769M626.5 28V37M626.5 773V764M634.5 28V32M634.5 773V769M641.5 28V32M641.5 773V769M648.5 28V32M648.5 773V769M656.5 28V32M656.5 773V769M663.5 28V45M663.5 773V756M670.5 28V32M670.5 773V769M677.5 28V32M677.5 773V769M685.5 28V32M685.5 773V769M692.5 28V32M692.5 773V769M699.5 28V37M699.5 773V764M706.5 28V32M706.5 773V769M714.5 28V32M714.5 773V769M721.5 28V32M721.5 773V769M728.5 28V32M728.5 773V769M736.5 28V45M736.5 773V756M743.5 28V32M743.5 773V769M750.5 28V32M750.5 773V769M757.5 28V32M757.5 773V769M765.5 28V32M765.5 773V769M772.5 28V37M772.5 773V764M779.5 28V32M779.5 773V769M786.5 28V32M786.5 773V769M794.5 28V32M794.5 773V769M1 29.5H5M800 29.5H796M1 36.5H18M800 36.5H783M1 43.5H5M800 43.5H796M1 50.5H5M800 50.5H796M1 58.5H5M800 58.5H796M1 65.5H5M800 65.5H796M1 72.5H10M800 72.5H791M1 79.5H5M800 79.5H796M1 87.5H5M800 87.5H796M1 94.5H5M800 94.5H796M1 101.5H5M800 101.5H796M1 109.5H18M800 109.5H783M1 116.5H5M800 116.5H796M1 123.5H5M800 123.5H796M1 130.5H5M800 130.5H796M1 138.5H5M800 138.5H796M1 145.5H10M800 145.5H791M1 152.5H5M800 152.5H796M1 159.5H5M800 159.5H796M1 167.5H5M800 167.5H796M1 174.5H5M800 174.5H796M1 181.5H18M800 181.5H783M1 189.5H5M800 189.5H796M1 196.5H5M800 196.5H796M1 203.5H5M800 203.5H796M1 210.5H5M800 210.5H796M1 218.5H10M800 218.5H791M1 225.5H5M800 225.5H796M1 232.5H5M800 232.5H796M1 239.5H5M800 239.5H796M1 247.5H5M800 247.5H796M1 254.5H18M800 254.5H783M1 261.5H5M800 261.5H796M1 269.5H5M800 269.5H796M1 276.5H5M800 276.5H796M1 283.5H5M800 283.5H796M1 290.5H10M800 290.5H791M1 298.5H5M800 298.5H796M1 305.5H5M800 305.5H796M1 312.5H5M800 312.5H796M1 319.5H5M800 319.5H796M1 327.5H18M800 327.5H783M1 334.5H5M800 334.5H796M1 341.5H5M800 341.5H796M1 348.5H5M800 348.5H796M1 356.5H5M800 356.5H796M1 363.5H10M800 363.5H791M1 370.5H5M800 370.5H796M1 378.5H5M800 378.5H796M1 385.5H5M800 385.5H796M1 392.5H5M800 392.5H796M1 399.5H18M800 399.5H783M1 407.5H5M800 407.5H796M1 414.5H5M800 414.5H796M1 421.5H5M800 421.5H796M1 428.5H5M800 428.5H796M1 436.5H10M800 436.5H791M1 443.5H5M800 443.5H796M1 450.5H5M800 450.5H796M1 458.5H5M800 458.5H796M1 465.5H5M800 465.5H796M1 472.5H18M800 472.5H783M1 479.5H5M800 479.5H796M1 487.5H5M800 487.5H796M1 494.5H5M800 494.5H796M1 501.5H5M800 501.5H796M1 508.5H10M800 508.5H791M1 516.5H5M800 516.5H796M1 523.5H5M800 523.5H796M1 530.5H5M800 530.5H796M1 538.5H5M800 538.5H796M1 545.5H18M800 545.5H783M1 552.5H5M800 552.5H796M1 559.5H5M800 559.5H796M1 567.5H5M800 567.5H796M1 574.5H5M800 574.5H796M1 581.5H10M800 581.5H791M1 588.5H5M800 588.5H796M1 596.5H5M800 596.5H796M1 603.5H5M800 603.5H796M1 610.5H5M800 610.5H796M1 618.5H18M800 618.5H783M1 625.5H5M800 625.5H796M1 632.5H5M800 632.5H796M1 639.5H5M800 639.5H796M1 647.5H5M800 647.5H796M1 654.5H10M800 654.5H791M1 661.5H5M800 661.5H796M1 668.5H5M800 668.5H796M1 676.5H5M800 676.5H796M1 683.5H5M800 683.5H796M1 690.5H18M800 690.5H783M1 698.5H5M800 698.5H796M1 705.5H5M800 705.5H796M1 712.5H5M800 712.5H796M1 719.5H5M800 719.5H796M1 727.5H10M800 727.5H791M1 734.5H5M800 734.5H796M1 741.5H5M800 741.5H796M1 748.5H5M800 748.5H796M1 756.5H5M800 756.5H796M1 763.5H18M800 763.5H783M1 770.5H5M800 770.5H796"/>
</g>
<g font-size="10px" fill="#94807a" font-family="Liberation Sans, sans-serif">
<text x="792" y="104.5" text-anchor="end" textLength="21" lengthAdjust="spacingAndGlyphs">32S</text>
<text x="792" y="176.5" text-anchor="end" textLength="21" lengthAdjust="spacingAndGlyphs">33S</text>
<text x="792" y="249.5" text-anchor="end" textLength="21" lengthAdjust="spacingAndGlyphs">34S</text>
<text x="792" y="322.5" text-anchor="end" textLength="21" lengthAdjust="spacingAndGlyphs">35S</text>
<text x="792" y="394.5" text-anchor="end" textLength="21" lengthAdjust="spacingAndGlyphs">36S</text>
<text x="792" y="467.5" text-anchor="end" textLength="21" lengthAdjust="spacingAndGlyphs">37S</text>
<text x="792" y="540.5" text-anchor="end" textLength="21" lengthAdjust="spacingAndGlyphs">38S</text>
<text x="792" y="613.5" text-anchor="end" textLength="21" lengthAdjust="spacingAndGlyphs">39S</text>
<text x="792" y="685.5" text-anchor="end" textLength="21" lengthAdjust="spacingAndGlyphs">40S</text>
<text x="792" y="754.5" text-anchor="end" textLength="21" lengthAdjust="spacingAndGlyphs">41S</text>
<text transform="translate(14.0,744) rotate(90)" textLength="21" lengthAdjust="spacingAndGlyphs">61W</text>
<text transform="translate(86.0,744) rotate(90)" textLength="21" lengthAdjust="spacingAndGlyphs">60W</text>
<text transform="translate(159.0,744) rotate(90)" textLength="21" lengthAdjust="spacingAndGlyphs">59W</text>
<text transform="translate(232.0,744) rotate(90)" textLength="21" lengthAdjust="spacingAndGlyphs">58W</text>
<text transform="translate(304.0,744) rotate(90)" textLength="21" lengthAdjust="spacingAndGlyphs">57W</text>
<text transform="translate(377.0,744) rotate(90)" textLength="21" lengthAdjust="spacingAndGlyphs">56W</text>
<text transform="translate(450.0,744) rotate(90)" textLength="21" lengthAdjust="spacingAndGlyphs">55W</text>
<text transform="translate(522.0,744) rotate(90)" textLength="21" lengthAdjust="spacingAndGlyphs">54W</text>
<text transform="translate(595.0,744) rotate(90)" textLength="21" lengthAdjust="spacingAndGlyphs">53W</text>
<text transform="translate(668.0,744) rotate(90)" textLength="21" lengthAdjust="spacingAndGlyphs">52W</text>
<text transform="translate(741.0,744) rotate(90)" textLength="21" lengthAdjust="spacingAndGlyphs">51W</text>
</g>
<g font-size="26px" font-weight="bold" fill="#808080" stroke="#808080" stroke-width="0.5" font-family="Liberation Sans, sans-serif">
<text x="5" y="50" textLength="383" lengthAdjust="spacingAndGlyphs">modelo GEFS-WAVE (NCEP)</text>
<text x="5" y="72.5" textLength="495" lengthAdjust="spacingAndGlyphs">forecast date: 2025-10-29 18:00:00</text>
<text x="42" y="95.5" textLength="446" lengthAdjust="spacingAndGlyphs">valid date: 2025-10-30 18:00:00</text>
</g>
</svg></body></html>
